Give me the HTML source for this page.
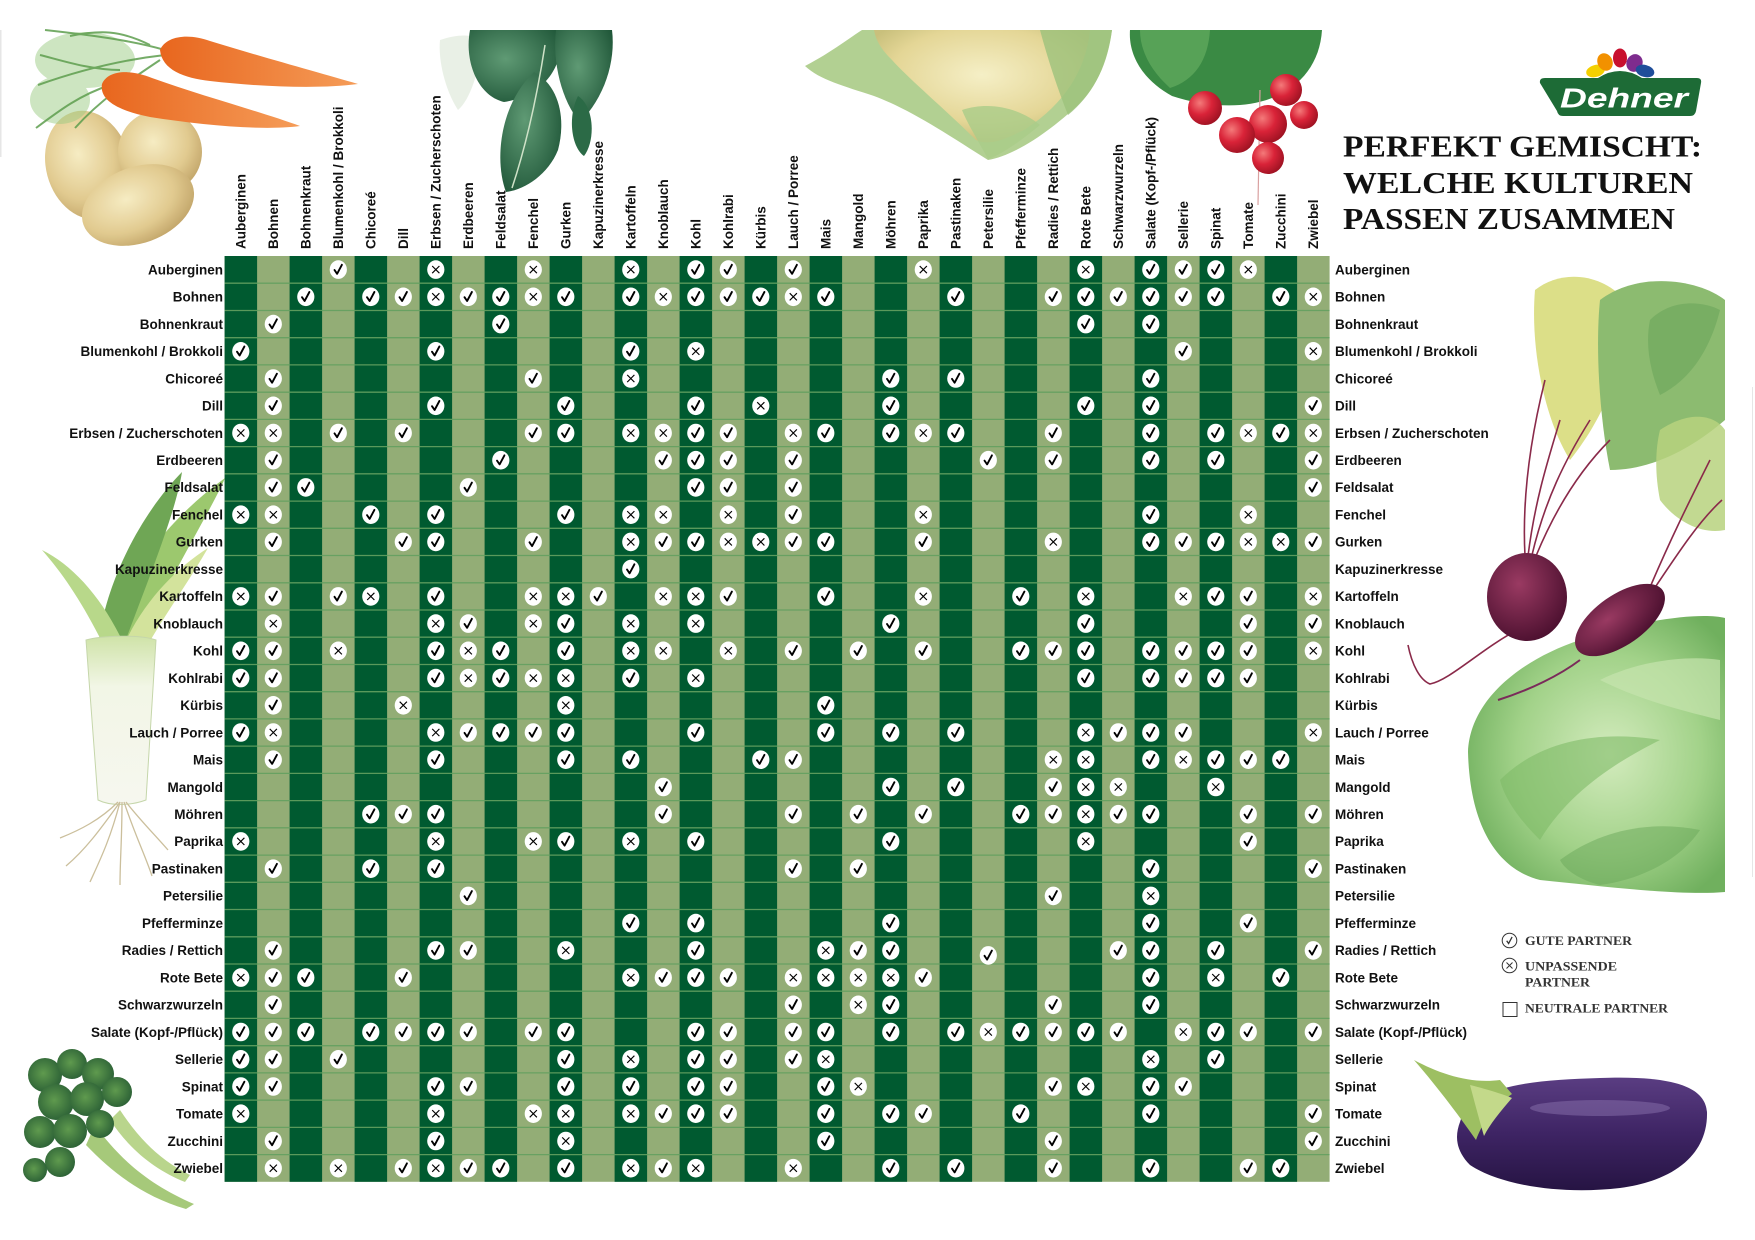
<!DOCTYPE html>
<html><head><meta charset="utf-8">
<style>
html,body{margin:0;padding:0;background:#fff;}
svg{display:block;}
.lab{font-family:"Liberation Sans",sans-serif;font-weight:bold;font-size:13.5px;fill:#111;}
.c ellipse,.x ellipse{fill:#fff;}
.c path{fill:none;stroke:#000;stroke-width:1.9;stroke-linecap:round;stroke-linejoin:round;}
.x path{fill:none;stroke:#000;stroke-width:1.15;}
.ttl{font-family:"Liberation Serif",serif;font-weight:bold;font-size:31px;fill:#111;}
.lg{font-family:"Liberation Serif",serif;font-weight:bold;font-size:12.5px;fill:#333;}
</style></head><body>
<svg width="1755" height="1240" viewBox="0 0 1755 1240" xmlns="http://www.w3.org/2000/svg">
<defs>
<radialGradient id="gPot" cx=".42" cy=".38" r=".7"><stop offset="0" stop-color="#f6ebc0"/><stop offset=".6" stop-color="#e0c88a"/><stop offset="1" stop-color="#b9995a"/></radialGradient>
<linearGradient id="gCar" x1="0" y1="0" x2="1" y2="0"><stop offset="0" stop-color="#e8661e"/><stop offset="1" stop-color="#f59c58"/></linearGradient>
<radialGradient id="gSp" cx=".4" cy=".4" r=".7"><stop offset="0" stop-color="#5f9a74"/><stop offset="1" stop-color="#1f5638"/></radialGradient>
<radialGradient id="gCau" cx=".5" cy=".4" r=".6"><stop offset="0" stop-color="#f5efc6"/><stop offset=".7" stop-color="#e4d696"/><stop offset="1" stop-color="#c9c07c"/></radialGradient>
<radialGradient id="gRad" cx=".35" cy=".35" r=".7"><stop offset="0" stop-color="#f47a7a"/><stop offset=".5" stop-color="#d92338"/><stop offset="1" stop-color="#9e1222"/></radialGradient>
<radialGradient id="gBeet" cx=".4" cy=".35" r=".7"><stop offset="0" stop-color="#9a3a62"/><stop offset="1" stop-color="#4a0f2e"/></radialGradient>
<radialGradient id="gCab" cx=".55" cy=".5" r=".6"><stop offset="0" stop-color="#d3ebbd"/><stop offset=".6" stop-color="#a2d289"/><stop offset="1" stop-color="#70b05e"/></radialGradient>
<linearGradient id="gEgg" x1="0" y1="0" x2="0" y2="1"><stop offset="0" stop-color="#5a3d82"/><stop offset=".5" stop-color="#3e2464"/><stop offset="1" stop-color="#261443"/></linearGradient>
<radialGradient id="gBro" cx=".45" cy=".45" r=".6"><stop offset="0" stop-color="#5f9a4e"/><stop offset="1" stop-color="#2a5f35"/></radialGradient>
<linearGradient id="gLeek" x1="0" y1="0" x2="0" y2="1"><stop offset="0" stop-color="#cfe3a8"/><stop offset=".3" stop-color="#f2f6e6"/><stop offset="1" stop-color="#f6f7ef"/></linearGradient>
</defs>

<!-- faint edge lines -->
<rect x="1752" y="387" width="1" height="490" fill="#e6e6e6"/>
<rect x="0" y="30" width="1.5" height="127" fill="#e6e6e6"/>

<!-- Potatoes -->
<g opacity=".95">
<ellipse cx="88" cy="165" rx="42" ry="55" transform="rotate(-15 88 165)" fill="url(#gPot)"/>
<ellipse cx="160" cy="152" rx="42" ry="42" fill="url(#gPot)"/>
<ellipse cx="138" cy="205" rx="58" ry="38" transform="rotate(-20 138 205)" fill="url(#gPot)"/>
</g>
<!-- Carrot greens -->
<g fill="#9ccc84" opacity=".5"><ellipse cx="85" cy="60" rx="50" ry="28"/><ellipse cx="60" cy="100" rx="30" ry="24"/></g>
<g stroke="#5e9e4e" stroke-width="2" fill="none" opacity=".85">
<path d="M165,50 C130,40 90,35 45,30"/><path d="M165,55 C120,60 80,70 38,85"/><path d="M110,85 C80,95 60,110 36,128"/>
<path d="M160,60 C130,80 100,100 75,128"/><path d="M150,45 C120,30 100,30 70,36"/><path d="M120,70 C90,70 60,60 40,55"/>
</g>
<!-- Carrots -->
<path fill="url(#gCar)" d="M160,50 C166,36 188,33 210,41 C262,57 320,73 358,84 C320,89 262,87 210,81 C184,78 162,70 160,50 Z"/>
<path fill="url(#gCar)" d="M102,84 C108,70 130,69 152,78 C202,96 262,112 300,126 C262,131 202,125 150,117 C120,111 99,101 102,84 Z"/>

<!-- Spinach -->
<g>
<path fill="#dfe9dc" opacity=".7" d="M440,40 C458,34 472,34 482,40 C480,70 470,100 458,110 C445,90 438,60 440,40Z"/>
<path fill="url(#gSp)" d="M470,30 L560,30 C566,68 542,96 504,102 C478,96 464,62 470,30Z"/>
<path fill="url(#gSp)" d="M556,30 L612,30 C616,62 604,98 580,122 C562,102 552,62 556,30Z"/>
<path fill="url(#gSp)" d="M534,72 C560,86 566,120 558,150 C548,175 524,190 506,192 C494,160 500,104 534,72Z"/>
<path fill="#2b6a46" d="M578,96 C594,106 596,140 584,156 C572,148 567,118 578,96Z"/>
<path d="M545,45 C538,90 528,140 512,188" stroke="#cfe2c8" stroke-width="1.5" fill="none"/>
</g>

<!-- Cauliflower -->
<g>
<path fill="#b2d092" d="M805,66 C832,52 852,36 862,30 L1112,30 C1108,62 1096,92 1068,114 C1038,140 1010,156 988,160 C956,140 912,110 874,96 C844,86 820,80 805,66Z"/>
<path fill="url(#gCau)" d="M874,30 L1090,30 C1086,72 1062,106 1024,130 C1004,140 990,146 976,140 C946,110 910,80 892,60 C880,48 876,40 874,30Z"/>
<path fill="#9cc27c" opacity=".8" d="M1040,30 L1112,30 C1106,70 1092,95 1068,115 C1058,90 1048,60 1040,30Z"/>
<path fill="#a9cc88" opacity=".8" d="M962,110 C992,100 1022,110 1040,125 C1016,145 998,156 988,159 C978,140 968,125 962,110Z"/>
</g>

<!-- Radish -->
<g>
<path fill="#3a8a44" d="M1130,30 L1322,30 C1320,62 1302,86 1272,98 C1242,110 1202,106 1172,96 C1146,82 1128,58 1130,30Z"/>
<path fill="#5fa85c" opacity=".8" d="M1140,30 L1210,30 C1208,60 1195,80 1170,88 C1150,70 1140,50 1140,30Z"/>
<path d="M1260,90 L1258,205" stroke="#d9a0a0" stroke-width="1.2"/>
<circle cx="1205" cy="108" r="17" fill="url(#gRad)"/>
<circle cx="1286" cy="90" r="16" fill="url(#gRad)"/>
<circle cx="1304" cy="115" r="14" fill="url(#gRad)"/>
<circle cx="1268" cy="124" r="19" fill="url(#gRad)"/>
<circle cx="1237" cy="135" r="18" fill="url(#gRad)"/>
<circle cx="1268" cy="158" r="16" fill="url(#gRad)"/>
</g>

<!-- Leek -->
<g>
<path fill="#9cc86e" d="M104,650 C116,590 160,525 225,478 C214,505 176,565 136,650 Z"/>
<path fill="#6fa655" d="M98,648 C104,585 140,515 182,472 C176,512 148,580 122,650 Z"/>
<path fill="#b8d88a" d="M106,650 C84,605 64,575 42,550 C72,565 100,595 122,640 Z"/>
<path fill="#d3e39c" d="M122,650 C140,605 176,568 208,548 C186,586 160,622 142,655 Z"/>
<path fill="url(#gLeek)" stroke="#c5d6aa" d="M86,640 C100,636 140,634 156,640 L146,800 C130,806 110,806 98,800 Z"/>
<g stroke="#cbbf9c" stroke-width="1.3" fill="none">
<path d="M120,802 C100,830 85,850 66,866"/><path d="M120,802 C110,840 100,860 90,882"/><path d="M122,802 C122,840 120,860 120,885"/>
<path d="M124,802 C135,835 145,855 152,876"/><path d="M126,802 C140,820 155,835 168,850"/><path d="M118,802 C100,820 80,830 60,838"/>
</g>
</g>

<!-- Broccoli -->
<g>
<path fill="#a6c97a" d="M95,1125 C120,1160 150,1185 194,1204 L186,1209 C142,1196 112,1172 86,1145Z"/>
<path fill="#b9d58c" d="M120,1110 C140,1140 160,1160 190,1175 L185,1182 C155,1170 130,1150 110,1120Z"/>
<g fill="url(#gBro)">
<circle cx="45" cy="1075" r="17"/><circle cx="72" cy="1064" r="15"/><circle cx="98" cy="1074" r="16"/>
<circle cx="56" cy="1102" r="18"/><circle cx="87" cy="1099" r="17"/><circle cx="117" cy="1092" r="15"/>
<circle cx="40" cy="1132" r="16"/><circle cx="70" cy="1131" r="17"/><circle cx="100" cy="1124" r="14"/>
<circle cx="60" cy="1162" r="15"/><circle cx="35" cy="1170" r="12"/>
</g>
</g>

<!-- Cabbage (right) -->
<g>
<path fill="url(#gCab)" d="M1468,752 C1470,700 1520,660 1580,640 C1640,620 1700,612 1725,618 L1725,892 C1680,896 1600,886 1540,880 C1500,870 1470,830 1468,752Z"/>
<path fill="#7fbb68" opacity=".6" d="M1500,780 C1540,740 1600,730 1660,740 C1620,760 1570,790 1540,840 C1520,820 1505,800 1500,780Z"/>
<path fill="#c6e4ae" opacity=".7" d="M1600,680 C1640,660 1690,655 1720,660 L1720,720 C1680,710 1640,700 1600,680Z"/>
<path fill="#6aa85a" opacity=".5" d="M1560,860 C1600,830 1650,820 1700,830 C1680,860 1640,880 1600,885 C1580,880 1565,870 1560,860Z"/>
</g>
<!-- Beet leaves -->
<g>
<path fill="#dcdf88" d="M1535,290 C1560,270 1600,272 1625,300 C1630,350 1610,410 1570,460 C1545,420 1530,350 1535,290Z"/>
<path fill="#8cbb70" d="M1600,300 C1640,270 1700,280 1725,300 L1725,420 C1690,450 1650,470 1610,470 C1600,420 1595,350 1600,300Z"/>
<path fill="#b7d27e" opacity=".85" d="M1660,430 C1690,410 1715,415 1725,430 L1725,530 C1700,535 1675,520 1660,500 C1655,475 1655,450 1660,430Z"/>
<path fill="#6fa85e" opacity=".7" d="M1650,320 C1670,300 1700,300 1720,310 C1710,350 1690,380 1660,395 C1650,370 1645,345 1650,320Z"/>
<g stroke="#8a2a4a" stroke-width="1.6" fill="none">
<path d="M1528,556 C1535,500 1548,460 1560,420"/><path d="M1532,555 C1545,500 1565,460 1590,420"/>
<path d="M1536,556 C1555,510 1580,470 1610,440"/><path d="M1525,556 C1522,500 1530,440 1545,380"/>
<path d="M1648,592 C1670,540 1690,500 1710,460"/><path d="M1652,592 C1680,550 1700,520 1722,500"/>
</g>
</g>
<!-- Beets -->
<g>
<path d="M1517,630 C1480,650 1450,680 1430,684 C1420,680 1412,665 1408,645" stroke="#8a2a4a" stroke-width="1.6" fill="none"/>
<path d="M1580,660 C1560,675 1530,690 1498,700" stroke="#7a2a5a" stroke-width="2" fill="none"/>
<ellipse cx="1527" cy="597" rx="40" ry="44" fill="url(#gBeet)"/>
<ellipse cx="1620" cy="620" rx="52" ry="25" transform="rotate(-35 1620 620)" fill="url(#gBeet)"/>
</g>

<!-- Eggplant -->
<g>
<path fill="url(#gEgg)" d="M1460,1122 C1470,1086 1530,1080 1600,1078 C1660,1076 1705,1082 1707,1112 C1708,1150 1680,1180 1620,1188 C1560,1195 1500,1185 1470,1165 C1455,1150 1455,1135 1460,1122Z"/>
<ellipse cx="1600" cy="1108" rx="70" ry="8" fill="#8a72ae" opacity=".5"/>
<path fill="#9dbf62" d="M1414,1060 C1440,1074 1470,1084 1500,1080 L1512,1094 C1492,1108 1482,1124 1476,1140 C1462,1120 1440,1090 1414,1060Z"/>
<path fill="#c3d98a" d="M1470,1085 C1490,1090 1505,1095 1512,1098 C1500,1112 1490,1124 1484,1136 C1478,1115 1474,1100 1470,1085Z"/>
</g>

<!-- Grid -->
<rect x="224.6" y="256" width="1105" height="925.8" fill="#93ad76"/>
<g fill="#005a30">
<rect x="224.6" y="256" width="32.5" height="925.8"/><rect x="289.6" y="256" width="32.5" height="925.8"/>
<rect x="354.6" y="256" width="32.5" height="925.8"/><rect x="419.6" y="256" width="32.5" height="925.8"/>
<rect x="484.6" y="256" width="32.5" height="925.8"/><rect x="549.6" y="256" width="32.5" height="925.8"/>
<rect x="614.6" y="256" width="32.5" height="925.8"/><rect x="679.6" y="256" width="32.5" height="925.8"/>
<rect x="744.6" y="256" width="32.5" height="925.8"/><rect x="809.6" y="256" width="32.5" height="925.8"/>
<rect x="874.6" y="256" width="32.5" height="925.8"/><rect x="939.6" y="256" width="32.5" height="925.8"/>
<rect x="1004.6" y="256" width="32.5" height="925.8"/><rect x="1069.6" y="256" width="32.5" height="925.8"/>
<rect x="1134.6" y="256" width="32.5" height="925.8"/><rect x="1199.6" y="256" width="32.5" height="925.8"/>
<rect x="1264.6" y="256" width="32.5" height="925.8"/>
</g>
<path stroke="#64a060" stroke-opacity=".9" stroke-width="1.3" fill="none" d="M224.6,283.2H1329.6M224.6,310.5H1329.6M224.6,337.7H1329.6M224.6,364.9H1329.6M224.6,392.2H1329.6M224.6,419.4H1329.6M224.6,446.6H1329.6M224.6,473.8H1329.6M224.6,501.1H1329.6M224.6,528.3H1329.6M224.6,555.5H1329.6M224.6,582.8H1329.6M224.6,610H1329.6M224.6,637.2H1329.6M224.6,664.5H1329.6M224.6,691.7H1329.6M224.6,718.9H1329.6M224.6,746.1H1329.6M224.6,773.4H1329.6M224.6,800.6H1329.6M224.6,827.8H1329.6M224.6,855.1H1329.6M224.6,882.3H1329.6M224.6,909.5H1329.6M224.6,936.8H1329.6M224.6,964H1329.6M224.6,991.2H1329.6M224.6,1018.4H1329.6M224.6,1045.7H1329.6M224.6,1072.9H1329.6M224.6,1100.1H1329.6M224.6,1127.4H1329.6M224.6,1154.6H1329.6"/>

<!-- Badges -->
<g transform="translate(0,269.6)">
<g class="c" transform="translate(338.3)"><ellipse rx="8.6" ry="9.3"/><path d="M-3.8.4-1.2 4.2 3.6-4.8"/></g>
<g class="c" transform="translate(695.8)"><ellipse rx="8.6" ry="9.3"/><path d="M-3.8.4-1.2 4.2 3.6-4.8"/></g>
<g class="c" transform="translate(728.3)"><ellipse rx="8.6" ry="9.3"/><path d="M-3.8.4-1.2 4.2 3.6-4.8"/></g>
<g class="c" transform="translate(793.3)"><ellipse rx="8.6" ry="9.3"/><path d="M-3.8.4-1.2 4.2 3.6-4.8"/></g>
<g class="c" transform="translate(1150.8)"><ellipse rx="8.6" ry="9.3"/><path d="M-3.8.4-1.2 4.2 3.6-4.8"/></g>
<g class="c" transform="translate(1183.3)"><ellipse rx="8.6" ry="9.3"/><path d="M-3.8.4-1.2 4.2 3.6-4.8"/></g>
<g class="c" transform="translate(1215.8)"><ellipse rx="8.6" ry="9.3"/><path d="M-3.8.4-1.2 4.2 3.6-4.8"/></g>
<g class="x" transform="translate(435.8)"><ellipse rx="8.6" ry="9.3"/><path d="M-3.6-3.6 3.6 3.6M3.6-3.6-3.6 3.6"/></g>
<g class="x" transform="translate(533.3)"><ellipse rx="8.6" ry="9.3"/><path d="M-3.6-3.6 3.6 3.6M3.6-3.6-3.6 3.6"/></g>
<g class="x" transform="translate(630.8)"><ellipse rx="8.6" ry="9.3"/><path d="M-3.6-3.6 3.6 3.6M3.6-3.6-3.6 3.6"/></g>
<g class="x" transform="translate(923.3)"><ellipse rx="8.6" ry="9.3"/><path d="M-3.6-3.6 3.6 3.6M3.6-3.6-3.6 3.6"/></g>
<g class="x" transform="translate(1085.8)"><ellipse rx="8.6" ry="9.3"/><path d="M-3.6-3.6 3.6 3.6M3.6-3.6-3.6 3.6"/></g>
<g class="x" transform="translate(1248.3)"><ellipse rx="8.6" ry="9.3"/><path d="M-3.6-3.6 3.6 3.6M3.6-3.6-3.6 3.6"/></g>
</g>
<g transform="translate(0,296.8)">
<g class="c" transform="translate(305.8)"><ellipse rx="8.6" ry="9.3"/><path d="M-3.8.4-1.2 4.2 3.6-4.8"/></g>
<g class="c" transform="translate(370.8)"><ellipse rx="8.6" ry="9.3"/><path d="M-3.8.4-1.2 4.2 3.6-4.8"/></g>
<g class="c" transform="translate(403.3)"><ellipse rx="8.6" ry="9.3"/><path d="M-3.8.4-1.2 4.2 3.6-4.8"/></g>
<g class="c" transform="translate(468.3)"><ellipse rx="8.6" ry="9.3"/><path d="M-3.8.4-1.2 4.2 3.6-4.8"/></g>
<g class="c" transform="translate(500.8)"><ellipse rx="8.6" ry="9.3"/><path d="M-3.8.4-1.2 4.2 3.6-4.8"/></g>
<g class="c" transform="translate(565.8)"><ellipse rx="8.6" ry="9.3"/><path d="M-3.8.4-1.2 4.2 3.6-4.8"/></g>
<g class="c" transform="translate(630.8)"><ellipse rx="8.6" ry="9.3"/><path d="M-3.8.4-1.2 4.2 3.6-4.8"/></g>
<g class="c" transform="translate(695.8)"><ellipse rx="8.6" ry="9.3"/><path d="M-3.8.4-1.2 4.2 3.6-4.8"/></g>
<g class="c" transform="translate(728.3)"><ellipse rx="8.6" ry="9.3"/><path d="M-3.8.4-1.2 4.2 3.6-4.8"/></g>
<g class="c" transform="translate(760.8)"><ellipse rx="8.6" ry="9.3"/><path d="M-3.8.4-1.2 4.2 3.6-4.8"/></g>
<g class="c" transform="translate(825.8)"><ellipse rx="8.6" ry="9.3"/><path d="M-3.8.4-1.2 4.2 3.6-4.8"/></g>
<g class="c" transform="translate(955.8)"><ellipse rx="8.6" ry="9.3"/><path d="M-3.8.4-1.2 4.2 3.6-4.8"/></g>
<g class="c" transform="translate(1053.3)"><ellipse rx="8.6" ry="9.3"/><path d="M-3.8.4-1.2 4.2 3.6-4.8"/></g>
<g class="c" transform="translate(1085.8)"><ellipse rx="8.6" ry="9.3"/><path d="M-3.8.4-1.2 4.2 3.6-4.8"/></g>
<g class="c" transform="translate(1118.3)"><ellipse rx="8.6" ry="9.3"/><path d="M-3.8.4-1.2 4.2 3.6-4.8"/></g>
<g class="c" transform="translate(1150.8)"><ellipse rx="8.6" ry="9.3"/><path d="M-3.8.4-1.2 4.2 3.6-4.8"/></g>
<g class="c" transform="translate(1183.3)"><ellipse rx="8.6" ry="9.3"/><path d="M-3.8.4-1.2 4.2 3.6-4.8"/></g>
<g class="c" transform="translate(1215.8)"><ellipse rx="8.6" ry="9.3"/><path d="M-3.8.4-1.2 4.2 3.6-4.8"/></g>
<g class="c" transform="translate(1280.8)"><ellipse rx="8.6" ry="9.3"/><path d="M-3.8.4-1.2 4.2 3.6-4.8"/></g>
<g class="x" transform="translate(435.8)"><ellipse rx="8.6" ry="9.3"/><path d="M-3.6-3.6 3.6 3.6M3.6-3.6-3.6 3.6"/></g>
<g class="x" transform="translate(533.3)"><ellipse rx="8.6" ry="9.3"/><path d="M-3.6-3.6 3.6 3.6M3.6-3.6-3.6 3.6"/></g>
<g class="x" transform="translate(663.3)"><ellipse rx="8.6" ry="9.3"/><path d="M-3.6-3.6 3.6 3.6M3.6-3.6-3.6 3.6"/></g>
<g class="x" transform="translate(793.3)"><ellipse rx="8.6" ry="9.3"/><path d="M-3.6-3.6 3.6 3.6M3.6-3.6-3.6 3.6"/></g>
<g class="x" transform="translate(1313.3)"><ellipse rx="8.6" ry="9.3"/><path d="M-3.6-3.6 3.6 3.6M3.6-3.6-3.6 3.6"/></g>
</g>
<g transform="translate(0,324.1)">
<g class="c" transform="translate(273.3)"><ellipse rx="8.6" ry="9.3"/><path d="M-3.8.4-1.2 4.2 3.6-4.8"/></g>
<g class="c" transform="translate(500.8)"><ellipse rx="8.6" ry="9.3"/><path d="M-3.8.4-1.2 4.2 3.6-4.8"/></g>
<g class="c" transform="translate(1085.8)"><ellipse rx="8.6" ry="9.3"/><path d="M-3.8.4-1.2 4.2 3.6-4.8"/></g>
<g class="c" transform="translate(1150.8)"><ellipse rx="8.6" ry="9.3"/><path d="M-3.8.4-1.2 4.2 3.6-4.8"/></g>
</g>
<g transform="translate(0,351.3)">
<g class="c" transform="translate(240.8)"><ellipse rx="8.6" ry="9.3"/><path d="M-3.8.4-1.2 4.2 3.6-4.8"/></g>
<g class="c" transform="translate(435.8)"><ellipse rx="8.6" ry="9.3"/><path d="M-3.8.4-1.2 4.2 3.6-4.8"/></g>
<g class="c" transform="translate(630.8)"><ellipse rx="8.6" ry="9.3"/><path d="M-3.8.4-1.2 4.2 3.6-4.8"/></g>
<g class="c" transform="translate(1183.3)"><ellipse rx="8.6" ry="9.3"/><path d="M-3.8.4-1.2 4.2 3.6-4.8"/></g>
<g class="x" transform="translate(695.8)"><ellipse rx="8.6" ry="9.3"/><path d="M-3.6-3.6 3.6 3.6M3.6-3.6-3.6 3.6"/></g>
<g class="x" transform="translate(1313.3)"><ellipse rx="8.6" ry="9.3"/><path d="M-3.6-3.6 3.6 3.6M3.6-3.6-3.6 3.6"/></g>
</g>
<g transform="translate(0,378.5)">
<g class="c" transform="translate(273.3)"><ellipse rx="8.6" ry="9.3"/><path d="M-3.8.4-1.2 4.2 3.6-4.8"/></g>
<g class="c" transform="translate(533.3)"><ellipse rx="8.6" ry="9.3"/><path d="M-3.8.4-1.2 4.2 3.6-4.8"/></g>
<g class="c" transform="translate(890.8)"><ellipse rx="8.6" ry="9.3"/><path d="M-3.8.4-1.2 4.2 3.6-4.8"/></g>
<g class="c" transform="translate(955.8)"><ellipse rx="8.6" ry="9.3"/><path d="M-3.8.4-1.2 4.2 3.6-4.8"/></g>
<g class="c" transform="translate(1150.8)"><ellipse rx="8.6" ry="9.3"/><path d="M-3.8.4-1.2 4.2 3.6-4.8"/></g>
<g class="x" transform="translate(630.8)"><ellipse rx="8.6" ry="9.3"/><path d="M-3.6-3.6 3.6 3.6M3.6-3.6-3.6 3.6"/></g>
</g>
<g transform="translate(0,405.8)">
<g class="c" transform="translate(273.3)"><ellipse rx="8.6" ry="9.3"/><path d="M-3.8.4-1.2 4.2 3.6-4.8"/></g>
<g class="c" transform="translate(435.8)"><ellipse rx="8.6" ry="9.3"/><path d="M-3.8.4-1.2 4.2 3.6-4.8"/></g>
<g class="c" transform="translate(565.8)"><ellipse rx="8.6" ry="9.3"/><path d="M-3.8.4-1.2 4.2 3.6-4.8"/></g>
<g class="c" transform="translate(695.8)"><ellipse rx="8.6" ry="9.3"/><path d="M-3.8.4-1.2 4.2 3.6-4.8"/></g>
<g class="c" transform="translate(890.8)"><ellipse rx="8.6" ry="9.3"/><path d="M-3.8.4-1.2 4.2 3.6-4.8"/></g>
<g class="c" transform="translate(1085.8)"><ellipse rx="8.6" ry="9.3"/><path d="M-3.8.4-1.2 4.2 3.6-4.8"/></g>
<g class="c" transform="translate(1150.8)"><ellipse rx="8.6" ry="9.3"/><path d="M-3.8.4-1.2 4.2 3.6-4.8"/></g>
<g class="c" transform="translate(1313.3)"><ellipse rx="8.6" ry="9.3"/><path d="M-3.8.4-1.2 4.2 3.6-4.8"/></g>
<g class="x" transform="translate(760.8)"><ellipse rx="8.6" ry="9.3"/><path d="M-3.6-3.6 3.6 3.6M3.6-3.6-3.6 3.6"/></g>
</g>
<g transform="translate(0,433)">
<g class="c" transform="translate(338.3)"><ellipse rx="8.6" ry="9.3"/><path d="M-3.8.4-1.2 4.2 3.6-4.8"/></g>
<g class="c" transform="translate(403.3)"><ellipse rx="8.6" ry="9.3"/><path d="M-3.8.4-1.2 4.2 3.6-4.8"/></g>
<g class="c" transform="translate(533.3)"><ellipse rx="8.6" ry="9.3"/><path d="M-3.8.4-1.2 4.2 3.6-4.8"/></g>
<g class="c" transform="translate(565.8)"><ellipse rx="8.6" ry="9.3"/><path d="M-3.8.4-1.2 4.2 3.6-4.8"/></g>
<g class="c" transform="translate(695.8)"><ellipse rx="8.6" ry="9.3"/><path d="M-3.8.4-1.2 4.2 3.6-4.8"/></g>
<g class="c" transform="translate(728.3)"><ellipse rx="8.6" ry="9.3"/><path d="M-3.8.4-1.2 4.2 3.6-4.8"/></g>
<g class="c" transform="translate(825.8)"><ellipse rx="8.6" ry="9.3"/><path d="M-3.8.4-1.2 4.2 3.6-4.8"/></g>
<g class="c" transform="translate(890.8)"><ellipse rx="8.6" ry="9.3"/><path d="M-3.8.4-1.2 4.2 3.6-4.8"/></g>
<g class="c" transform="translate(955.8)"><ellipse rx="8.6" ry="9.3"/><path d="M-3.8.4-1.2 4.2 3.6-4.8"/></g>
<g class="c" transform="translate(1053.3)"><ellipse rx="8.6" ry="9.3"/><path d="M-3.8.4-1.2 4.2 3.6-4.8"/></g>
<g class="c" transform="translate(1150.8)"><ellipse rx="8.6" ry="9.3"/><path d="M-3.8.4-1.2 4.2 3.6-4.8"/></g>
<g class="c" transform="translate(1215.8)"><ellipse rx="8.6" ry="9.3"/><path d="M-3.8.4-1.2 4.2 3.6-4.8"/></g>
<g class="c" transform="translate(1280.8)"><ellipse rx="8.6" ry="9.3"/><path d="M-3.8.4-1.2 4.2 3.6-4.8"/></g>
<g class="x" transform="translate(240.8)"><ellipse rx="8.6" ry="9.3"/><path d="M-3.6-3.6 3.6 3.6M3.6-3.6-3.6 3.6"/></g>
<g class="x" transform="translate(273.3)"><ellipse rx="8.6" ry="9.3"/><path d="M-3.6-3.6 3.6 3.6M3.6-3.6-3.6 3.6"/></g>
<g class="x" transform="translate(630.8)"><ellipse rx="8.6" ry="9.3"/><path d="M-3.6-3.6 3.6 3.6M3.6-3.6-3.6 3.6"/></g>
<g class="x" transform="translate(663.3)"><ellipse rx="8.6" ry="9.3"/><path d="M-3.6-3.6 3.6 3.6M3.6-3.6-3.6 3.6"/></g>
<g class="x" transform="translate(793.3)"><ellipse rx="8.6" ry="9.3"/><path d="M-3.6-3.6 3.6 3.6M3.6-3.6-3.6 3.6"/></g>
<g class="x" transform="translate(923.3)"><ellipse rx="8.6" ry="9.3"/><path d="M-3.6-3.6 3.6 3.6M3.6-3.6-3.6 3.6"/></g>
<g class="x" transform="translate(1248.3)"><ellipse rx="8.6" ry="9.3"/><path d="M-3.6-3.6 3.6 3.6M3.6-3.6-3.6 3.6"/></g>
<g class="x" transform="translate(1313.3)"><ellipse rx="8.6" ry="9.3"/><path d="M-3.6-3.6 3.6 3.6M3.6-3.6-3.6 3.6"/></g>
</g>
<g transform="translate(0,460.2)">
<g class="c" transform="translate(273.3)"><ellipse rx="8.6" ry="9.3"/><path d="M-3.8.4-1.2 4.2 3.6-4.8"/></g>
<g class="c" transform="translate(500.8)"><ellipse rx="8.6" ry="9.3"/><path d="M-3.8.4-1.2 4.2 3.6-4.8"/></g>
<g class="c" transform="translate(663.3)"><ellipse rx="8.6" ry="9.3"/><path d="M-3.8.4-1.2 4.2 3.6-4.8"/></g>
<g class="c" transform="translate(695.8)"><ellipse rx="8.6" ry="9.3"/><path d="M-3.8.4-1.2 4.2 3.6-4.8"/></g>
<g class="c" transform="translate(728.3)"><ellipse rx="8.6" ry="9.3"/><path d="M-3.8.4-1.2 4.2 3.6-4.8"/></g>
<g class="c" transform="translate(793.3)"><ellipse rx="8.6" ry="9.3"/><path d="M-3.8.4-1.2 4.2 3.6-4.8"/></g>
<g class="c" transform="translate(988.3)"><ellipse rx="8.6" ry="9.3"/><path d="M-3.8.4-1.2 4.2 3.6-4.8"/></g>
<g class="c" transform="translate(1053.3)"><ellipse rx="8.6" ry="9.3"/><path d="M-3.8.4-1.2 4.2 3.6-4.8"/></g>
<g class="c" transform="translate(1150.8)"><ellipse rx="8.6" ry="9.3"/><path d="M-3.8.4-1.2 4.2 3.6-4.8"/></g>
<g class="c" transform="translate(1215.8)"><ellipse rx="8.6" ry="9.3"/><path d="M-3.8.4-1.2 4.2 3.6-4.8"/></g>
<g class="c" transform="translate(1313.3)"><ellipse rx="8.6" ry="9.3"/><path d="M-3.8.4-1.2 4.2 3.6-4.8"/></g>
</g>
<g transform="translate(0,487.4)">
<g class="c" transform="translate(273.3)"><ellipse rx="8.6" ry="9.3"/><path d="M-3.8.4-1.2 4.2 3.6-4.8"/></g>
<g class="c" transform="translate(305.8)"><ellipse rx="8.6" ry="9.3"/><path d="M-3.8.4-1.2 4.2 3.6-4.8"/></g>
<g class="c" transform="translate(468.3)"><ellipse rx="8.6" ry="9.3"/><path d="M-3.8.4-1.2 4.2 3.6-4.8"/></g>
<g class="c" transform="translate(695.8)"><ellipse rx="8.6" ry="9.3"/><path d="M-3.8.4-1.2 4.2 3.6-4.8"/></g>
<g class="c" transform="translate(728.3)"><ellipse rx="8.6" ry="9.3"/><path d="M-3.8.4-1.2 4.2 3.6-4.8"/></g>
<g class="c" transform="translate(793.3)"><ellipse rx="8.6" ry="9.3"/><path d="M-3.8.4-1.2 4.2 3.6-4.8"/></g>
<g class="c" transform="translate(1313.3)"><ellipse rx="8.6" ry="9.3"/><path d="M-3.8.4-1.2 4.2 3.6-4.8"/></g>
</g>
<g transform="translate(0,514.7)">
<g class="c" transform="translate(370.8)"><ellipse rx="8.6" ry="9.3"/><path d="M-3.8.4-1.2 4.2 3.6-4.8"/></g>
<g class="c" transform="translate(435.8)"><ellipse rx="8.6" ry="9.3"/><path d="M-3.8.4-1.2 4.2 3.6-4.8"/></g>
<g class="c" transform="translate(565.8)"><ellipse rx="8.6" ry="9.3"/><path d="M-3.8.4-1.2 4.2 3.6-4.8"/></g>
<g class="c" transform="translate(793.3)"><ellipse rx="8.6" ry="9.3"/><path d="M-3.8.4-1.2 4.2 3.6-4.8"/></g>
<g class="c" transform="translate(1150.8)"><ellipse rx="8.6" ry="9.3"/><path d="M-3.8.4-1.2 4.2 3.6-4.8"/></g>
<g class="x" transform="translate(240.8)"><ellipse rx="8.6" ry="9.3"/><path d="M-3.6-3.6 3.6 3.6M3.6-3.6-3.6 3.6"/></g>
<g class="x" transform="translate(273.3)"><ellipse rx="8.6" ry="9.3"/><path d="M-3.6-3.6 3.6 3.6M3.6-3.6-3.6 3.6"/></g>
<g class="x" transform="translate(630.8)"><ellipse rx="8.6" ry="9.3"/><path d="M-3.6-3.6 3.6 3.6M3.6-3.6-3.6 3.6"/></g>
<g class="x" transform="translate(663.3)"><ellipse rx="8.6" ry="9.3"/><path d="M-3.6-3.6 3.6 3.6M3.6-3.6-3.6 3.6"/></g>
<g class="x" transform="translate(728.3)"><ellipse rx="8.6" ry="9.3"/><path d="M-3.6-3.6 3.6 3.6M3.6-3.6-3.6 3.6"/></g>
<g class="x" transform="translate(923.3)"><ellipse rx="8.6" ry="9.3"/><path d="M-3.6-3.6 3.6 3.6M3.6-3.6-3.6 3.6"/></g>
<g class="x" transform="translate(1248.3)"><ellipse rx="8.6" ry="9.3"/><path d="M-3.6-3.6 3.6 3.6M3.6-3.6-3.6 3.6"/></g>
</g>
<g transform="translate(0,541.9)">
<g class="c" transform="translate(273.3)"><ellipse rx="8.6" ry="9.3"/><path d="M-3.8.4-1.2 4.2 3.6-4.8"/></g>
<g class="c" transform="translate(403.3)"><ellipse rx="8.6" ry="9.3"/><path d="M-3.8.4-1.2 4.2 3.6-4.8"/></g>
<g class="c" transform="translate(435.8)"><ellipse rx="8.6" ry="9.3"/><path d="M-3.8.4-1.2 4.2 3.6-4.8"/></g>
<g class="c" transform="translate(533.3)"><ellipse rx="8.6" ry="9.3"/><path d="M-3.8.4-1.2 4.2 3.6-4.8"/></g>
<g class="c" transform="translate(663.3)"><ellipse rx="8.6" ry="9.3"/><path d="M-3.8.4-1.2 4.2 3.6-4.8"/></g>
<g class="c" transform="translate(695.8)"><ellipse rx="8.6" ry="9.3"/><path d="M-3.8.4-1.2 4.2 3.6-4.8"/></g>
<g class="c" transform="translate(793.3)"><ellipse rx="8.6" ry="9.3"/><path d="M-3.8.4-1.2 4.2 3.6-4.8"/></g>
<g class="c" transform="translate(825.8)"><ellipse rx="8.6" ry="9.3"/><path d="M-3.8.4-1.2 4.2 3.6-4.8"/></g>
<g class="c" transform="translate(923.3)"><ellipse rx="8.6" ry="9.3"/><path d="M-3.8.4-1.2 4.2 3.6-4.8"/></g>
<g class="c" transform="translate(1150.8)"><ellipse rx="8.6" ry="9.3"/><path d="M-3.8.4-1.2 4.2 3.6-4.8"/></g>
<g class="c" transform="translate(1183.3)"><ellipse rx="8.6" ry="9.3"/><path d="M-3.8.4-1.2 4.2 3.6-4.8"/></g>
<g class="c" transform="translate(1215.8)"><ellipse rx="8.6" ry="9.3"/><path d="M-3.8.4-1.2 4.2 3.6-4.8"/></g>
<g class="c" transform="translate(1313.3)"><ellipse rx="8.6" ry="9.3"/><path d="M-3.8.4-1.2 4.2 3.6-4.8"/></g>
<g class="x" transform="translate(630.8)"><ellipse rx="8.6" ry="9.3"/><path d="M-3.6-3.6 3.6 3.6M3.6-3.6-3.6 3.6"/></g>
<g class="x" transform="translate(728.3)"><ellipse rx="8.6" ry="9.3"/><path d="M-3.6-3.6 3.6 3.6M3.6-3.6-3.6 3.6"/></g>
<g class="x" transform="translate(760.8)"><ellipse rx="8.6" ry="9.3"/><path d="M-3.6-3.6 3.6 3.6M3.6-3.6-3.6 3.6"/></g>
<g class="x" transform="translate(1053.3)"><ellipse rx="8.6" ry="9.3"/><path d="M-3.6-3.6 3.6 3.6M3.6-3.6-3.6 3.6"/></g>
<g class="x" transform="translate(1248.3)"><ellipse rx="8.6" ry="9.3"/><path d="M-3.6-3.6 3.6 3.6M3.6-3.6-3.6 3.6"/></g>
<g class="x" transform="translate(1280.8)"><ellipse rx="8.6" ry="9.3"/><path d="M-3.6-3.6 3.6 3.6M3.6-3.6-3.6 3.6"/></g>
</g>
<g transform="translate(0,569.1)">
<g class="c" transform="translate(630.8)"><ellipse rx="8.6" ry="9.3"/><path d="M-3.8.4-1.2 4.2 3.6-4.8"/></g>
</g>
<g transform="translate(0,596.4)">
<g class="c" transform="translate(273.3)"><ellipse rx="8.6" ry="9.3"/><path d="M-3.8.4-1.2 4.2 3.6-4.8"/></g>
<g class="c" transform="translate(338.3)"><ellipse rx="8.6" ry="9.3"/><path d="M-3.8.4-1.2 4.2 3.6-4.8"/></g>
<g class="c" transform="translate(435.8)"><ellipse rx="8.6" ry="9.3"/><path d="M-3.8.4-1.2 4.2 3.6-4.8"/></g>
<g class="c" transform="translate(598.3)"><ellipse rx="8.6" ry="9.3"/><path d="M-3.8.4-1.2 4.2 3.6-4.8"/></g>
<g class="c" transform="translate(728.3)"><ellipse rx="8.6" ry="9.3"/><path d="M-3.8.4-1.2 4.2 3.6-4.8"/></g>
<g class="c" transform="translate(825.8)"><ellipse rx="8.6" ry="9.3"/><path d="M-3.8.4-1.2 4.2 3.6-4.8"/></g>
<g class="c" transform="translate(1020.8)"><ellipse rx="8.6" ry="9.3"/><path d="M-3.8.4-1.2 4.2 3.6-4.8"/></g>
<g class="c" transform="translate(1215.8)"><ellipse rx="8.6" ry="9.3"/><path d="M-3.8.4-1.2 4.2 3.6-4.8"/></g>
<g class="c" transform="translate(1248.3)"><ellipse rx="8.6" ry="9.3"/><path d="M-3.8.4-1.2 4.2 3.6-4.8"/></g>
<g class="x" transform="translate(240.8)"><ellipse rx="8.6" ry="9.3"/><path d="M-3.6-3.6 3.6 3.6M3.6-3.6-3.6 3.6"/></g>
<g class="x" transform="translate(370.8)"><ellipse rx="8.6" ry="9.3"/><path d="M-3.6-3.6 3.6 3.6M3.6-3.6-3.6 3.6"/></g>
<g class="x" transform="translate(533.3)"><ellipse rx="8.6" ry="9.3"/><path d="M-3.6-3.6 3.6 3.6M3.6-3.6-3.6 3.6"/></g>
<g class="x" transform="translate(565.8)"><ellipse rx="8.6" ry="9.3"/><path d="M-3.6-3.6 3.6 3.6M3.6-3.6-3.6 3.6"/></g>
<g class="x" transform="translate(663.3)"><ellipse rx="8.6" ry="9.3"/><path d="M-3.6-3.6 3.6 3.6M3.6-3.6-3.6 3.6"/></g>
<g class="x" transform="translate(695.8)"><ellipse rx="8.6" ry="9.3"/><path d="M-3.6-3.6 3.6 3.6M3.6-3.6-3.6 3.6"/></g>
<g class="x" transform="translate(923.3)"><ellipse rx="8.6" ry="9.3"/><path d="M-3.6-3.6 3.6 3.6M3.6-3.6-3.6 3.6"/></g>
<g class="x" transform="translate(1085.8)"><ellipse rx="8.6" ry="9.3"/><path d="M-3.6-3.6 3.6 3.6M3.6-3.6-3.6 3.6"/></g>
<g class="x" transform="translate(1183.3)"><ellipse rx="8.6" ry="9.3"/><path d="M-3.6-3.6 3.6 3.6M3.6-3.6-3.6 3.6"/></g>
<g class="x" transform="translate(1313.3)"><ellipse rx="8.6" ry="9.3"/><path d="M-3.6-3.6 3.6 3.6M3.6-3.6-3.6 3.6"/></g>
</g>
<g transform="translate(0,623.6)">
<g class="c" transform="translate(468.3)"><ellipse rx="8.6" ry="9.3"/><path d="M-3.8.4-1.2 4.2 3.6-4.8"/></g>
<g class="c" transform="translate(565.8)"><ellipse rx="8.6" ry="9.3"/><path d="M-3.8.4-1.2 4.2 3.6-4.8"/></g>
<g class="c" transform="translate(890.8)"><ellipse rx="8.6" ry="9.3"/><path d="M-3.8.4-1.2 4.2 3.6-4.8"/></g>
<g class="c" transform="translate(1085.8)"><ellipse rx="8.6" ry="9.3"/><path d="M-3.8.4-1.2 4.2 3.6-4.8"/></g>
<g class="c" transform="translate(1248.3)"><ellipse rx="8.6" ry="9.3"/><path d="M-3.8.4-1.2 4.2 3.6-4.8"/></g>
<g class="c" transform="translate(1313.3)"><ellipse rx="8.6" ry="9.3"/><path d="M-3.8.4-1.2 4.2 3.6-4.8"/></g>
<g class="x" transform="translate(273.3)"><ellipse rx="8.6" ry="9.3"/><path d="M-3.6-3.6 3.6 3.6M3.6-3.6-3.6 3.6"/></g>
<g class="x" transform="translate(435.8)"><ellipse rx="8.6" ry="9.3"/><path d="M-3.6-3.6 3.6 3.6M3.6-3.6-3.6 3.6"/></g>
<g class="x" transform="translate(533.3)"><ellipse rx="8.6" ry="9.3"/><path d="M-3.6-3.6 3.6 3.6M3.6-3.6-3.6 3.6"/></g>
<g class="x" transform="translate(630.8)"><ellipse rx="8.6" ry="9.3"/><path d="M-3.6-3.6 3.6 3.6M3.6-3.6-3.6 3.6"/></g>
<g class="x" transform="translate(695.8)"><ellipse rx="8.6" ry="9.3"/><path d="M-3.6-3.6 3.6 3.6M3.6-3.6-3.6 3.6"/></g>
</g>
<g transform="translate(0,650.8)">
<g class="c" transform="translate(240.8)"><ellipse rx="8.6" ry="9.3"/><path d="M-3.8.4-1.2 4.2 3.6-4.8"/></g>
<g class="c" transform="translate(273.3)"><ellipse rx="8.6" ry="9.3"/><path d="M-3.8.4-1.2 4.2 3.6-4.8"/></g>
<g class="c" transform="translate(435.8)"><ellipse rx="8.6" ry="9.3"/><path d="M-3.8.4-1.2 4.2 3.6-4.8"/></g>
<g class="c" transform="translate(500.8)"><ellipse rx="8.6" ry="9.3"/><path d="M-3.8.4-1.2 4.2 3.6-4.8"/></g>
<g class="c" transform="translate(565.8)"><ellipse rx="8.6" ry="9.3"/><path d="M-3.8.4-1.2 4.2 3.6-4.8"/></g>
<g class="c" transform="translate(793.3)"><ellipse rx="8.6" ry="9.3"/><path d="M-3.8.4-1.2 4.2 3.6-4.8"/></g>
<g class="c" transform="translate(858.3)"><ellipse rx="8.6" ry="9.3"/><path d="M-3.8.4-1.2 4.2 3.6-4.8"/></g>
<g class="c" transform="translate(923.3)"><ellipse rx="8.6" ry="9.3"/><path d="M-3.8.4-1.2 4.2 3.6-4.8"/></g>
<g class="c" transform="translate(1020.8)"><ellipse rx="8.6" ry="9.3"/><path d="M-3.8.4-1.2 4.2 3.6-4.8"/></g>
<g class="c" transform="translate(1053.3)"><ellipse rx="8.6" ry="9.3"/><path d="M-3.8.4-1.2 4.2 3.6-4.8"/></g>
<g class="c" transform="translate(1085.8)"><ellipse rx="8.6" ry="9.3"/><path d="M-3.8.4-1.2 4.2 3.6-4.8"/></g>
<g class="c" transform="translate(1150.8)"><ellipse rx="8.6" ry="9.3"/><path d="M-3.8.4-1.2 4.2 3.6-4.8"/></g>
<g class="c" transform="translate(1183.3)"><ellipse rx="8.6" ry="9.3"/><path d="M-3.8.4-1.2 4.2 3.6-4.8"/></g>
<g class="c" transform="translate(1215.8)"><ellipse rx="8.6" ry="9.3"/><path d="M-3.8.4-1.2 4.2 3.6-4.8"/></g>
<g class="c" transform="translate(1248.3)"><ellipse rx="8.6" ry="9.3"/><path d="M-3.8.4-1.2 4.2 3.6-4.8"/></g>
<g class="x" transform="translate(338.3)"><ellipse rx="8.6" ry="9.3"/><path d="M-3.6-3.6 3.6 3.6M3.6-3.6-3.6 3.6"/></g>
<g class="x" transform="translate(468.3)"><ellipse rx="8.6" ry="9.3"/><path d="M-3.6-3.6 3.6 3.6M3.6-3.6-3.6 3.6"/></g>
<g class="x" transform="translate(630.8)"><ellipse rx="8.6" ry="9.3"/><path d="M-3.6-3.6 3.6 3.6M3.6-3.6-3.6 3.6"/></g>
<g class="x" transform="translate(663.3)"><ellipse rx="8.6" ry="9.3"/><path d="M-3.6-3.6 3.6 3.6M3.6-3.6-3.6 3.6"/></g>
<g class="x" transform="translate(728.3)"><ellipse rx="8.6" ry="9.3"/><path d="M-3.6-3.6 3.6 3.6M3.6-3.6-3.6 3.6"/></g>
<g class="x" transform="translate(1313.3)"><ellipse rx="8.6" ry="9.3"/><path d="M-3.6-3.6 3.6 3.6M3.6-3.6-3.6 3.6"/></g>
</g>
<g transform="translate(0,678.1)">
<g class="c" transform="translate(240.8)"><ellipse rx="8.6" ry="9.3"/><path d="M-3.8.4-1.2 4.2 3.6-4.8"/></g>
<g class="c" transform="translate(273.3)"><ellipse rx="8.6" ry="9.3"/><path d="M-3.8.4-1.2 4.2 3.6-4.8"/></g>
<g class="c" transform="translate(435.8)"><ellipse rx="8.6" ry="9.3"/><path d="M-3.8.4-1.2 4.2 3.6-4.8"/></g>
<g class="c" transform="translate(500.8)"><ellipse rx="8.6" ry="9.3"/><path d="M-3.8.4-1.2 4.2 3.6-4.8"/></g>
<g class="c" transform="translate(630.8)"><ellipse rx="8.6" ry="9.3"/><path d="M-3.8.4-1.2 4.2 3.6-4.8"/></g>
<g class="c" transform="translate(1085.8)"><ellipse rx="8.6" ry="9.3"/><path d="M-3.8.4-1.2 4.2 3.6-4.8"/></g>
<g class="c" transform="translate(1150.8)"><ellipse rx="8.6" ry="9.3"/><path d="M-3.8.4-1.2 4.2 3.6-4.8"/></g>
<g class="c" transform="translate(1183.3)"><ellipse rx="8.6" ry="9.3"/><path d="M-3.8.4-1.2 4.2 3.6-4.8"/></g>
<g class="c" transform="translate(1215.8)"><ellipse rx="8.6" ry="9.3"/><path d="M-3.8.4-1.2 4.2 3.6-4.8"/></g>
<g class="c" transform="translate(1248.3)"><ellipse rx="8.6" ry="9.3"/><path d="M-3.8.4-1.2 4.2 3.6-4.8"/></g>
<g class="x" transform="translate(468.3)"><ellipse rx="8.6" ry="9.3"/><path d="M-3.6-3.6 3.6 3.6M3.6-3.6-3.6 3.6"/></g>
<g class="x" transform="translate(533.3)"><ellipse rx="8.6" ry="9.3"/><path d="M-3.6-3.6 3.6 3.6M3.6-3.6-3.6 3.6"/></g>
<g class="x" transform="translate(565.8)"><ellipse rx="8.6" ry="9.3"/><path d="M-3.6-3.6 3.6 3.6M3.6-3.6-3.6 3.6"/></g>
<g class="x" transform="translate(695.8)"><ellipse rx="8.6" ry="9.3"/><path d="M-3.6-3.6 3.6 3.6M3.6-3.6-3.6 3.6"/></g>
</g>
<g transform="translate(0,705.3)">
<g class="c" transform="translate(273.3)"><ellipse rx="8.6" ry="9.3"/><path d="M-3.8.4-1.2 4.2 3.6-4.8"/></g>
<g class="c" transform="translate(825.8)"><ellipse rx="8.6" ry="9.3"/><path d="M-3.8.4-1.2 4.2 3.6-4.8"/></g>
<g class="x" transform="translate(403.3)"><ellipse rx="8.6" ry="9.3"/><path d="M-3.6-3.6 3.6 3.6M3.6-3.6-3.6 3.6"/></g>
<g class="x" transform="translate(565.8)"><ellipse rx="8.6" ry="9.3"/><path d="M-3.6-3.6 3.6 3.6M3.6-3.6-3.6 3.6"/></g>
</g>
<g transform="translate(0,732.5)">
<g class="c" transform="translate(240.8)"><ellipse rx="8.6" ry="9.3"/><path d="M-3.8.4-1.2 4.2 3.6-4.8"/></g>
<g class="c" transform="translate(468.3)"><ellipse rx="8.6" ry="9.3"/><path d="M-3.8.4-1.2 4.2 3.6-4.8"/></g>
<g class="c" transform="translate(500.8)"><ellipse rx="8.6" ry="9.3"/><path d="M-3.8.4-1.2 4.2 3.6-4.8"/></g>
<g class="c" transform="translate(533.3)"><ellipse rx="8.6" ry="9.3"/><path d="M-3.8.4-1.2 4.2 3.6-4.8"/></g>
<g class="c" transform="translate(565.8)"><ellipse rx="8.6" ry="9.3"/><path d="M-3.8.4-1.2 4.2 3.6-4.8"/></g>
<g class="c" transform="translate(695.8)"><ellipse rx="8.6" ry="9.3"/><path d="M-3.8.4-1.2 4.2 3.6-4.8"/></g>
<g class="c" transform="translate(825.8)"><ellipse rx="8.6" ry="9.3"/><path d="M-3.8.4-1.2 4.2 3.6-4.8"/></g>
<g class="c" transform="translate(890.8)"><ellipse rx="8.6" ry="9.3"/><path d="M-3.8.4-1.2 4.2 3.6-4.8"/></g>
<g class="c" transform="translate(955.8)"><ellipse rx="8.6" ry="9.3"/><path d="M-3.8.4-1.2 4.2 3.6-4.8"/></g>
<g class="c" transform="translate(1118.3)"><ellipse rx="8.6" ry="9.3"/><path d="M-3.8.4-1.2 4.2 3.6-4.8"/></g>
<g class="c" transform="translate(1150.8)"><ellipse rx="8.6" ry="9.3"/><path d="M-3.8.4-1.2 4.2 3.6-4.8"/></g>
<g class="c" transform="translate(1183.3)"><ellipse rx="8.6" ry="9.3"/><path d="M-3.8.4-1.2 4.2 3.6-4.8"/></g>
<g class="x" transform="translate(273.3)"><ellipse rx="8.6" ry="9.3"/><path d="M-3.6-3.6 3.6 3.6M3.6-3.6-3.6 3.6"/></g>
<g class="x" transform="translate(435.8)"><ellipse rx="8.6" ry="9.3"/><path d="M-3.6-3.6 3.6 3.6M3.6-3.6-3.6 3.6"/></g>
<g class="x" transform="translate(1085.8)"><ellipse rx="8.6" ry="9.3"/><path d="M-3.6-3.6 3.6 3.6M3.6-3.6-3.6 3.6"/></g>
<g class="x" transform="translate(1313.3)"><ellipse rx="8.6" ry="9.3"/><path d="M-3.6-3.6 3.6 3.6M3.6-3.6-3.6 3.6"/></g>
</g>
<g transform="translate(0,759.7)">
<g class="c" transform="translate(273.3)"><ellipse rx="8.6" ry="9.3"/><path d="M-3.8.4-1.2 4.2 3.6-4.8"/></g>
<g class="c" transform="translate(435.8)"><ellipse rx="8.6" ry="9.3"/><path d="M-3.8.4-1.2 4.2 3.6-4.8"/></g>
<g class="c" transform="translate(565.8)"><ellipse rx="8.6" ry="9.3"/><path d="M-3.8.4-1.2 4.2 3.6-4.8"/></g>
<g class="c" transform="translate(630.8)"><ellipse rx="8.6" ry="9.3"/><path d="M-3.8.4-1.2 4.2 3.6-4.8"/></g>
<g class="c" transform="translate(760.8)"><ellipse rx="8.6" ry="9.3"/><path d="M-3.8.4-1.2 4.2 3.6-4.8"/></g>
<g class="c" transform="translate(793.3)"><ellipse rx="8.6" ry="9.3"/><path d="M-3.8.4-1.2 4.2 3.6-4.8"/></g>
<g class="c" transform="translate(1150.8)"><ellipse rx="8.6" ry="9.3"/><path d="M-3.8.4-1.2 4.2 3.6-4.8"/></g>
<g class="c" transform="translate(1215.8)"><ellipse rx="8.6" ry="9.3"/><path d="M-3.8.4-1.2 4.2 3.6-4.8"/></g>
<g class="c" transform="translate(1248.3)"><ellipse rx="8.6" ry="9.3"/><path d="M-3.8.4-1.2 4.2 3.6-4.8"/></g>
<g class="c" transform="translate(1280.8)"><ellipse rx="8.6" ry="9.3"/><path d="M-3.8.4-1.2 4.2 3.6-4.8"/></g>
<g class="x" transform="translate(1053.3)"><ellipse rx="8.6" ry="9.3"/><path d="M-3.6-3.6 3.6 3.6M3.6-3.6-3.6 3.6"/></g>
<g class="x" transform="translate(1085.8)"><ellipse rx="8.6" ry="9.3"/><path d="M-3.6-3.6 3.6 3.6M3.6-3.6-3.6 3.6"/></g>
<g class="x" transform="translate(1183.3)"><ellipse rx="8.6" ry="9.3"/><path d="M-3.6-3.6 3.6 3.6M3.6-3.6-3.6 3.6"/></g>
</g>
<g transform="translate(0,787)">
<g class="c" transform="translate(663.3)"><ellipse rx="8.6" ry="9.3"/><path d="M-3.8.4-1.2 4.2 3.6-4.8"/></g>
<g class="c" transform="translate(890.8)"><ellipse rx="8.6" ry="9.3"/><path d="M-3.8.4-1.2 4.2 3.6-4.8"/></g>
<g class="c" transform="translate(955.8)"><ellipse rx="8.6" ry="9.3"/><path d="M-3.8.4-1.2 4.2 3.6-4.8"/></g>
<g class="c" transform="translate(1053.3)"><ellipse rx="8.6" ry="9.3"/><path d="M-3.8.4-1.2 4.2 3.6-4.8"/></g>
<g class="x" transform="translate(1085.8)"><ellipse rx="8.6" ry="9.3"/><path d="M-3.6-3.6 3.6 3.6M3.6-3.6-3.6 3.6"/></g>
<g class="x" transform="translate(1118.3)"><ellipse rx="8.6" ry="9.3"/><path d="M-3.6-3.6 3.6 3.6M3.6-3.6-3.6 3.6"/></g>
<g class="x" transform="translate(1215.8)"><ellipse rx="8.6" ry="9.3"/><path d="M-3.6-3.6 3.6 3.6M3.6-3.6-3.6 3.6"/></g>
</g>
<g transform="translate(0,814.2)">
<g class="c" transform="translate(370.8)"><ellipse rx="8.6" ry="9.3"/><path d="M-3.8.4-1.2 4.2 3.6-4.8"/></g>
<g class="c" transform="translate(403.3)"><ellipse rx="8.6" ry="9.3"/><path d="M-3.8.4-1.2 4.2 3.6-4.8"/></g>
<g class="c" transform="translate(435.8)"><ellipse rx="8.6" ry="9.3"/><path d="M-3.8.4-1.2 4.2 3.6-4.8"/></g>
<g class="c" transform="translate(663.3)"><ellipse rx="8.6" ry="9.3"/><path d="M-3.8.4-1.2 4.2 3.6-4.8"/></g>
<g class="c" transform="translate(793.3)"><ellipse rx="8.6" ry="9.3"/><path d="M-3.8.4-1.2 4.2 3.6-4.8"/></g>
<g class="c" transform="translate(858.3)"><ellipse rx="8.6" ry="9.3"/><path d="M-3.8.4-1.2 4.2 3.6-4.8"/></g>
<g class="c" transform="translate(923.3)"><ellipse rx="8.6" ry="9.3"/><path d="M-3.8.4-1.2 4.2 3.6-4.8"/></g>
<g class="c" transform="translate(1020.8)"><ellipse rx="8.6" ry="9.3"/><path d="M-3.8.4-1.2 4.2 3.6-4.8"/></g>
<g class="c" transform="translate(1053.3)"><ellipse rx="8.6" ry="9.3"/><path d="M-3.8.4-1.2 4.2 3.6-4.8"/></g>
<g class="c" transform="translate(1118.3)"><ellipse rx="8.6" ry="9.3"/><path d="M-3.8.4-1.2 4.2 3.6-4.8"/></g>
<g class="c" transform="translate(1150.8)"><ellipse rx="8.6" ry="9.3"/><path d="M-3.8.4-1.2 4.2 3.6-4.8"/></g>
<g class="c" transform="translate(1248.3)"><ellipse rx="8.6" ry="9.3"/><path d="M-3.8.4-1.2 4.2 3.6-4.8"/></g>
<g class="c" transform="translate(1313.3)"><ellipse rx="8.6" ry="9.3"/><path d="M-3.8.4-1.2 4.2 3.6-4.8"/></g>
<g class="x" transform="translate(1085.8)"><ellipse rx="8.6" ry="9.3"/><path d="M-3.6-3.6 3.6 3.6M3.6-3.6-3.6 3.6"/></g>
</g>
<g transform="translate(0,841.4)">
<g class="c" transform="translate(565.8)"><ellipse rx="8.6" ry="9.3"/><path d="M-3.8.4-1.2 4.2 3.6-4.8"/></g>
<g class="c" transform="translate(695.8)"><ellipse rx="8.6" ry="9.3"/><path d="M-3.8.4-1.2 4.2 3.6-4.8"/></g>
<g class="c" transform="translate(890.8)"><ellipse rx="8.6" ry="9.3"/><path d="M-3.8.4-1.2 4.2 3.6-4.8"/></g>
<g class="c" transform="translate(1248.3)"><ellipse rx="8.6" ry="9.3"/><path d="M-3.8.4-1.2 4.2 3.6-4.8"/></g>
<g class="x" transform="translate(240.8)"><ellipse rx="8.6" ry="9.3"/><path d="M-3.6-3.6 3.6 3.6M3.6-3.6-3.6 3.6"/></g>
<g class="x" transform="translate(435.8)"><ellipse rx="8.6" ry="9.3"/><path d="M-3.6-3.6 3.6 3.6M3.6-3.6-3.6 3.6"/></g>
<g class="x" transform="translate(533.3)"><ellipse rx="8.6" ry="9.3"/><path d="M-3.6-3.6 3.6 3.6M3.6-3.6-3.6 3.6"/></g>
<g class="x" transform="translate(630.8)"><ellipse rx="8.6" ry="9.3"/><path d="M-3.6-3.6 3.6 3.6M3.6-3.6-3.6 3.6"/></g>
<g class="x" transform="translate(1085.8)"><ellipse rx="8.6" ry="9.3"/><path d="M-3.6-3.6 3.6 3.6M3.6-3.6-3.6 3.6"/></g>
</g>
<g transform="translate(0,868.7)">
<g class="c" transform="translate(273.3)"><ellipse rx="8.6" ry="9.3"/><path d="M-3.8.4-1.2 4.2 3.6-4.8"/></g>
<g class="c" transform="translate(370.8)"><ellipse rx="8.6" ry="9.3"/><path d="M-3.8.4-1.2 4.2 3.6-4.8"/></g>
<g class="c" transform="translate(435.8)"><ellipse rx="8.6" ry="9.3"/><path d="M-3.8.4-1.2 4.2 3.6-4.8"/></g>
<g class="c" transform="translate(793.3)"><ellipse rx="8.6" ry="9.3"/><path d="M-3.8.4-1.2 4.2 3.6-4.8"/></g>
<g class="c" transform="translate(858.3)"><ellipse rx="8.6" ry="9.3"/><path d="M-3.8.4-1.2 4.2 3.6-4.8"/></g>
<g class="c" transform="translate(1150.8)"><ellipse rx="8.6" ry="9.3"/><path d="M-3.8.4-1.2 4.2 3.6-4.8"/></g>
<g class="c" transform="translate(1313.3)"><ellipse rx="8.6" ry="9.3"/><path d="M-3.8.4-1.2 4.2 3.6-4.8"/></g>
</g>
<g transform="translate(0,895.9)">
<g class="c" transform="translate(468.3)"><ellipse rx="8.6" ry="9.3"/><path d="M-3.8.4-1.2 4.2 3.6-4.8"/></g>
<g class="c" transform="translate(1053.3)"><ellipse rx="8.6" ry="9.3"/><path d="M-3.8.4-1.2 4.2 3.6-4.8"/></g>
<g class="x" transform="translate(1150.8)"><ellipse rx="8.6" ry="9.3"/><path d="M-3.6-3.6 3.6 3.6M3.6-3.6-3.6 3.6"/></g>
</g>
<g transform="translate(0,923.1)">
<g class="c" transform="translate(630.8)"><ellipse rx="8.6" ry="9.3"/><path d="M-3.8.4-1.2 4.2 3.6-4.8"/></g>
<g class="c" transform="translate(695.8)"><ellipse rx="8.6" ry="9.3"/><path d="M-3.8.4-1.2 4.2 3.6-4.8"/></g>
<g class="c" transform="translate(890.8)"><ellipse rx="8.6" ry="9.3"/><path d="M-3.8.4-1.2 4.2 3.6-4.8"/></g>
<g class="c" transform="translate(1150.8)"><ellipse rx="8.6" ry="9.3"/><path d="M-3.8.4-1.2 4.2 3.6-4.8"/></g>
<g class="c" transform="translate(1248.3)"><ellipse rx="8.6" ry="9.3"/><path d="M-3.8.4-1.2 4.2 3.6-4.8"/></g>
</g>
<g transform="translate(0,950.4)">
<g class="c" transform="translate(273.3)"><ellipse rx="8.6" ry="9.3"/><path d="M-3.8.4-1.2 4.2 3.6-4.8"/></g>
<g class="c" transform="translate(435.8)"><ellipse rx="8.6" ry="9.3"/><path d="M-3.8.4-1.2 4.2 3.6-4.8"/></g>
<g class="c" transform="translate(468.3)"><ellipse rx="8.6" ry="9.3"/><path d="M-3.8.4-1.2 4.2 3.6-4.8"/></g>
<g class="c" transform="translate(695.8)"><ellipse rx="8.6" ry="9.3"/><path d="M-3.8.4-1.2 4.2 3.6-4.8"/></g>
<g class="c" transform="translate(858.3)"><ellipse rx="8.6" ry="9.3"/><path d="M-3.8.4-1.2 4.2 3.6-4.8"/></g>
<g class="c" transform="translate(890.8)"><ellipse rx="8.6" ry="9.3"/><path d="M-3.8.4-1.2 4.2 3.6-4.8"/></g>
<g class="c" transform="translate(988.3,5)"><ellipse rx="8.6" ry="9.3"/><path d="M-3.8.4-1.2 4.2 3.6-4.8"/></g>
<g class="c" transform="translate(1118.3)"><ellipse rx="8.6" ry="9.3"/><path d="M-3.8.4-1.2 4.2 3.6-4.8"/></g>
<g class="c" transform="translate(1150.8)"><ellipse rx="8.6" ry="9.3"/><path d="M-3.8.4-1.2 4.2 3.6-4.8"/></g>
<g class="c" transform="translate(1215.8)"><ellipse rx="8.6" ry="9.3"/><path d="M-3.8.4-1.2 4.2 3.6-4.8"/></g>
<g class="c" transform="translate(1313.3)"><ellipse rx="8.6" ry="9.3"/><path d="M-3.8.4-1.2 4.2 3.6-4.8"/></g>
<g class="x" transform="translate(565.8)"><ellipse rx="8.6" ry="9.3"/><path d="M-3.6-3.6 3.6 3.6M3.6-3.6-3.6 3.6"/></g>
<g class="x" transform="translate(825.8)"><ellipse rx="8.6" ry="9.3"/><path d="M-3.6-3.6 3.6 3.6M3.6-3.6-3.6 3.6"/></g>
</g>
<g transform="translate(0,977.6)">
<g class="c" transform="translate(273.3)"><ellipse rx="8.6" ry="9.3"/><path d="M-3.8.4-1.2 4.2 3.6-4.8"/></g>
<g class="c" transform="translate(305.8)"><ellipse rx="8.6" ry="9.3"/><path d="M-3.8.4-1.2 4.2 3.6-4.8"/></g>
<g class="c" transform="translate(403.3)"><ellipse rx="8.6" ry="9.3"/><path d="M-3.8.4-1.2 4.2 3.6-4.8"/></g>
<g class="c" transform="translate(663.3)"><ellipse rx="8.6" ry="9.3"/><path d="M-3.8.4-1.2 4.2 3.6-4.8"/></g>
<g class="c" transform="translate(695.8)"><ellipse rx="8.6" ry="9.3"/><path d="M-3.8.4-1.2 4.2 3.6-4.8"/></g>
<g class="c" transform="translate(728.3)"><ellipse rx="8.6" ry="9.3"/><path d="M-3.8.4-1.2 4.2 3.6-4.8"/></g>
<g class="c" transform="translate(923.3)"><ellipse rx="8.6" ry="9.3"/><path d="M-3.8.4-1.2 4.2 3.6-4.8"/></g>
<g class="c" transform="translate(1150.8)"><ellipse rx="8.6" ry="9.3"/><path d="M-3.8.4-1.2 4.2 3.6-4.8"/></g>
<g class="c" transform="translate(1280.8)"><ellipse rx="8.6" ry="9.3"/><path d="M-3.8.4-1.2 4.2 3.6-4.8"/></g>
<g class="x" transform="translate(240.8)"><ellipse rx="8.6" ry="9.3"/><path d="M-3.6-3.6 3.6 3.6M3.6-3.6-3.6 3.6"/></g>
<g class="x" transform="translate(630.8)"><ellipse rx="8.6" ry="9.3"/><path d="M-3.6-3.6 3.6 3.6M3.6-3.6-3.6 3.6"/></g>
<g class="x" transform="translate(793.3)"><ellipse rx="8.6" ry="9.3"/><path d="M-3.6-3.6 3.6 3.6M3.6-3.6-3.6 3.6"/></g>
<g class="x" transform="translate(825.8)"><ellipse rx="8.6" ry="9.3"/><path d="M-3.6-3.6 3.6 3.6M3.6-3.6-3.6 3.6"/></g>
<g class="x" transform="translate(858.3)"><ellipse rx="8.6" ry="9.3"/><path d="M-3.6-3.6 3.6 3.6M3.6-3.6-3.6 3.6"/></g>
<g class="x" transform="translate(890.8)"><ellipse rx="8.6" ry="9.3"/><path d="M-3.6-3.6 3.6 3.6M3.6-3.6-3.6 3.6"/></g>
<g class="x" transform="translate(1215.8)"><ellipse rx="8.6" ry="9.3"/><path d="M-3.6-3.6 3.6 3.6M3.6-3.6-3.6 3.6"/></g>
</g>
<g transform="translate(0,1004.8)">
<g class="c" transform="translate(273.3)"><ellipse rx="8.6" ry="9.3"/><path d="M-3.8.4-1.2 4.2 3.6-4.8"/></g>
<g class="c" transform="translate(793.3)"><ellipse rx="8.6" ry="9.3"/><path d="M-3.8.4-1.2 4.2 3.6-4.8"/></g>
<g class="c" transform="translate(890.8)"><ellipse rx="8.6" ry="9.3"/><path d="M-3.8.4-1.2 4.2 3.6-4.8"/></g>
<g class="c" transform="translate(1053.3)"><ellipse rx="8.6" ry="9.3"/><path d="M-3.8.4-1.2 4.2 3.6-4.8"/></g>
<g class="c" transform="translate(1150.8)"><ellipse rx="8.6" ry="9.3"/><path d="M-3.8.4-1.2 4.2 3.6-4.8"/></g>
<g class="x" transform="translate(858.3)"><ellipse rx="8.6" ry="9.3"/><path d="M-3.6-3.6 3.6 3.6M3.6-3.6-3.6 3.6"/></g>
</g>
<g transform="translate(0,1032)">
<g class="c" transform="translate(240.8)"><ellipse rx="8.6" ry="9.3"/><path d="M-3.8.4-1.2 4.2 3.6-4.8"/></g>
<g class="c" transform="translate(273.3)"><ellipse rx="8.6" ry="9.3"/><path d="M-3.8.4-1.2 4.2 3.6-4.8"/></g>
<g class="c" transform="translate(305.8)"><ellipse rx="8.6" ry="9.3"/><path d="M-3.8.4-1.2 4.2 3.6-4.8"/></g>
<g class="c" transform="translate(370.8)"><ellipse rx="8.6" ry="9.3"/><path d="M-3.8.4-1.2 4.2 3.6-4.8"/></g>
<g class="c" transform="translate(403.3)"><ellipse rx="8.6" ry="9.3"/><path d="M-3.8.4-1.2 4.2 3.6-4.8"/></g>
<g class="c" transform="translate(435.8)"><ellipse rx="8.6" ry="9.3"/><path d="M-3.8.4-1.2 4.2 3.6-4.8"/></g>
<g class="c" transform="translate(468.3)"><ellipse rx="8.6" ry="9.3"/><path d="M-3.8.4-1.2 4.2 3.6-4.8"/></g>
<g class="c" transform="translate(533.3)"><ellipse rx="8.6" ry="9.3"/><path d="M-3.8.4-1.2 4.2 3.6-4.8"/></g>
<g class="c" transform="translate(565.8)"><ellipse rx="8.6" ry="9.3"/><path d="M-3.8.4-1.2 4.2 3.6-4.8"/></g>
<g class="c" transform="translate(695.8)"><ellipse rx="8.6" ry="9.3"/><path d="M-3.8.4-1.2 4.2 3.6-4.8"/></g>
<g class="c" transform="translate(728.3)"><ellipse rx="8.6" ry="9.3"/><path d="M-3.8.4-1.2 4.2 3.6-4.8"/></g>
<g class="c" transform="translate(793.3)"><ellipse rx="8.6" ry="9.3"/><path d="M-3.8.4-1.2 4.2 3.6-4.8"/></g>
<g class="c" transform="translate(825.8)"><ellipse rx="8.6" ry="9.3"/><path d="M-3.8.4-1.2 4.2 3.6-4.8"/></g>
<g class="c" transform="translate(890.8)"><ellipse rx="8.6" ry="9.3"/><path d="M-3.8.4-1.2 4.2 3.6-4.8"/></g>
<g class="c" transform="translate(955.8)"><ellipse rx="8.6" ry="9.3"/><path d="M-3.8.4-1.2 4.2 3.6-4.8"/></g>
<g class="c" transform="translate(1020.8)"><ellipse rx="8.6" ry="9.3"/><path d="M-3.8.4-1.2 4.2 3.6-4.8"/></g>
<g class="c" transform="translate(1053.3)"><ellipse rx="8.6" ry="9.3"/><path d="M-3.8.4-1.2 4.2 3.6-4.8"/></g>
<g class="c" transform="translate(1085.8)"><ellipse rx="8.6" ry="9.3"/><path d="M-3.8.4-1.2 4.2 3.6-4.8"/></g>
<g class="c" transform="translate(1118.3)"><ellipse rx="8.6" ry="9.3"/><path d="M-3.8.4-1.2 4.2 3.6-4.8"/></g>
<g class="c" transform="translate(1215.8)"><ellipse rx="8.6" ry="9.3"/><path d="M-3.8.4-1.2 4.2 3.6-4.8"/></g>
<g class="c" transform="translate(1248.3)"><ellipse rx="8.6" ry="9.3"/><path d="M-3.8.4-1.2 4.2 3.6-4.8"/></g>
<g class="c" transform="translate(1313.3)"><ellipse rx="8.6" ry="9.3"/><path d="M-3.8.4-1.2 4.2 3.6-4.8"/></g>
<g class="x" transform="translate(988.3)"><ellipse rx="8.6" ry="9.3"/><path d="M-3.6-3.6 3.6 3.6M3.6-3.6-3.6 3.6"/></g>
<g class="x" transform="translate(1183.3)"><ellipse rx="8.6" ry="9.3"/><path d="M-3.6-3.6 3.6 3.6M3.6-3.6-3.6 3.6"/></g>
</g>
<g transform="translate(0,1059.3)">
<g class="c" transform="translate(240.8)"><ellipse rx="8.6" ry="9.3"/><path d="M-3.8.4-1.2 4.2 3.6-4.8"/></g>
<g class="c" transform="translate(273.3)"><ellipse rx="8.6" ry="9.3"/><path d="M-3.8.4-1.2 4.2 3.6-4.8"/></g>
<g class="c" transform="translate(338.3)"><ellipse rx="8.6" ry="9.3"/><path d="M-3.8.4-1.2 4.2 3.6-4.8"/></g>
<g class="c" transform="translate(565.8)"><ellipse rx="8.6" ry="9.3"/><path d="M-3.8.4-1.2 4.2 3.6-4.8"/></g>
<g class="c" transform="translate(695.8)"><ellipse rx="8.6" ry="9.3"/><path d="M-3.8.4-1.2 4.2 3.6-4.8"/></g>
<g class="c" transform="translate(728.3)"><ellipse rx="8.6" ry="9.3"/><path d="M-3.8.4-1.2 4.2 3.6-4.8"/></g>
<g class="c" transform="translate(793.3)"><ellipse rx="8.6" ry="9.3"/><path d="M-3.8.4-1.2 4.2 3.6-4.8"/></g>
<g class="c" transform="translate(1215.8)"><ellipse rx="8.6" ry="9.3"/><path d="M-3.8.4-1.2 4.2 3.6-4.8"/></g>
<g class="x" transform="translate(630.8)"><ellipse rx="8.6" ry="9.3"/><path d="M-3.6-3.6 3.6 3.6M3.6-3.6-3.6 3.6"/></g>
<g class="x" transform="translate(825.8)"><ellipse rx="8.6" ry="9.3"/><path d="M-3.6-3.6 3.6 3.6M3.6-3.6-3.6 3.6"/></g>
<g class="x" transform="translate(1150.8)"><ellipse rx="8.6" ry="9.3"/><path d="M-3.6-3.6 3.6 3.6M3.6-3.6-3.6 3.6"/></g>
</g>
<g transform="translate(0,1086.5)">
<g class="c" transform="translate(240.8)"><ellipse rx="8.6" ry="9.3"/><path d="M-3.8.4-1.2 4.2 3.6-4.8"/></g>
<g class="c" transform="translate(273.3)"><ellipse rx="8.6" ry="9.3"/><path d="M-3.8.4-1.2 4.2 3.6-4.8"/></g>
<g class="c" transform="translate(435.8)"><ellipse rx="8.6" ry="9.3"/><path d="M-3.8.4-1.2 4.2 3.6-4.8"/></g>
<g class="c" transform="translate(468.3)"><ellipse rx="8.6" ry="9.3"/><path d="M-3.8.4-1.2 4.2 3.6-4.8"/></g>
<g class="c" transform="translate(565.8)"><ellipse rx="8.6" ry="9.3"/><path d="M-3.8.4-1.2 4.2 3.6-4.8"/></g>
<g class="c" transform="translate(630.8)"><ellipse rx="8.6" ry="9.3"/><path d="M-3.8.4-1.2 4.2 3.6-4.8"/></g>
<g class="c" transform="translate(695.8)"><ellipse rx="8.6" ry="9.3"/><path d="M-3.8.4-1.2 4.2 3.6-4.8"/></g>
<g class="c" transform="translate(728.3)"><ellipse rx="8.6" ry="9.3"/><path d="M-3.8.4-1.2 4.2 3.6-4.8"/></g>
<g class="c" transform="translate(825.8)"><ellipse rx="8.6" ry="9.3"/><path d="M-3.8.4-1.2 4.2 3.6-4.8"/></g>
<g class="c" transform="translate(1053.3)"><ellipse rx="8.6" ry="9.3"/><path d="M-3.8.4-1.2 4.2 3.6-4.8"/></g>
<g class="c" transform="translate(1150.8)"><ellipse rx="8.6" ry="9.3"/><path d="M-3.8.4-1.2 4.2 3.6-4.8"/></g>
<g class="c" transform="translate(1183.3)"><ellipse rx="8.6" ry="9.3"/><path d="M-3.8.4-1.2 4.2 3.6-4.8"/></g>
<g class="x" transform="translate(858.3)"><ellipse rx="8.6" ry="9.3"/><path d="M-3.6-3.6 3.6 3.6M3.6-3.6-3.6 3.6"/></g>
<g class="x" transform="translate(1085.8)"><ellipse rx="8.6" ry="9.3"/><path d="M-3.6-3.6 3.6 3.6M3.6-3.6-3.6 3.6"/></g>
</g>
<g transform="translate(0,1113.7)">
<g class="c" transform="translate(663.3)"><ellipse rx="8.6" ry="9.3"/><path d="M-3.8.4-1.2 4.2 3.6-4.8"/></g>
<g class="c" transform="translate(695.8)"><ellipse rx="8.6" ry="9.3"/><path d="M-3.8.4-1.2 4.2 3.6-4.8"/></g>
<g class="c" transform="translate(728.3)"><ellipse rx="8.6" ry="9.3"/><path d="M-3.8.4-1.2 4.2 3.6-4.8"/></g>
<g class="c" transform="translate(825.8)"><ellipse rx="8.6" ry="9.3"/><path d="M-3.8.4-1.2 4.2 3.6-4.8"/></g>
<g class="c" transform="translate(890.8)"><ellipse rx="8.6" ry="9.3"/><path d="M-3.8.4-1.2 4.2 3.6-4.8"/></g>
<g class="c" transform="translate(923.3)"><ellipse rx="8.6" ry="9.3"/><path d="M-3.8.4-1.2 4.2 3.6-4.8"/></g>
<g class="c" transform="translate(1020.8)"><ellipse rx="8.6" ry="9.3"/><path d="M-3.8.4-1.2 4.2 3.6-4.8"/></g>
<g class="c" transform="translate(1150.8)"><ellipse rx="8.6" ry="9.3"/><path d="M-3.8.4-1.2 4.2 3.6-4.8"/></g>
<g class="c" transform="translate(1313.3)"><ellipse rx="8.6" ry="9.3"/><path d="M-3.8.4-1.2 4.2 3.6-4.8"/></g>
<g class="x" transform="translate(240.8)"><ellipse rx="8.6" ry="9.3"/><path d="M-3.6-3.6 3.6 3.6M3.6-3.6-3.6 3.6"/></g>
<g class="x" transform="translate(435.8)"><ellipse rx="8.6" ry="9.3"/><path d="M-3.6-3.6 3.6 3.6M3.6-3.6-3.6 3.6"/></g>
<g class="x" transform="translate(533.3)"><ellipse rx="8.6" ry="9.3"/><path d="M-3.6-3.6 3.6 3.6M3.6-3.6-3.6 3.6"/></g>
<g class="x" transform="translate(565.8)"><ellipse rx="8.6" ry="9.3"/><path d="M-3.6-3.6 3.6 3.6M3.6-3.6-3.6 3.6"/></g>
<g class="x" transform="translate(630.8)"><ellipse rx="8.6" ry="9.3"/><path d="M-3.6-3.6 3.6 3.6M3.6-3.6-3.6 3.6"/></g>
</g>
<g transform="translate(0,1141)">
<g class="c" transform="translate(273.3)"><ellipse rx="8.6" ry="9.3"/><path d="M-3.8.4-1.2 4.2 3.6-4.8"/></g>
<g class="c" transform="translate(435.8)"><ellipse rx="8.6" ry="9.3"/><path d="M-3.8.4-1.2 4.2 3.6-4.8"/></g>
<g class="c" transform="translate(825.8)"><ellipse rx="8.6" ry="9.3"/><path d="M-3.8.4-1.2 4.2 3.6-4.8"/></g>
<g class="c" transform="translate(1053.3)"><ellipse rx="8.6" ry="9.3"/><path d="M-3.8.4-1.2 4.2 3.6-4.8"/></g>
<g class="c" transform="translate(1313.3)"><ellipse rx="8.6" ry="9.3"/><path d="M-3.8.4-1.2 4.2 3.6-4.8"/></g>
<g class="x" transform="translate(565.8)"><ellipse rx="8.6" ry="9.3"/><path d="M-3.6-3.6 3.6 3.6M3.6-3.6-3.6 3.6"/></g>
</g>
<g transform="translate(0,1168.2)">
<g class="c" transform="translate(403.3)"><ellipse rx="8.6" ry="9.3"/><path d="M-3.8.4-1.2 4.2 3.6-4.8"/></g>
<g class="c" transform="translate(468.3)"><ellipse rx="8.6" ry="9.3"/><path d="M-3.8.4-1.2 4.2 3.6-4.8"/></g>
<g class="c" transform="translate(500.8)"><ellipse rx="8.6" ry="9.3"/><path d="M-3.8.4-1.2 4.2 3.6-4.8"/></g>
<g class="c" transform="translate(565.8)"><ellipse rx="8.6" ry="9.3"/><path d="M-3.8.4-1.2 4.2 3.6-4.8"/></g>
<g class="c" transform="translate(663.3)"><ellipse rx="8.6" ry="9.3"/><path d="M-3.8.4-1.2 4.2 3.6-4.8"/></g>
<g class="c" transform="translate(890.8)"><ellipse rx="8.6" ry="9.3"/><path d="M-3.8.4-1.2 4.2 3.6-4.8"/></g>
<g class="c" transform="translate(955.8)"><ellipse rx="8.6" ry="9.3"/><path d="M-3.8.4-1.2 4.2 3.6-4.8"/></g>
<g class="c" transform="translate(1053.3)"><ellipse rx="8.6" ry="9.3"/><path d="M-3.8.4-1.2 4.2 3.6-4.8"/></g>
<g class="c" transform="translate(1150.8)"><ellipse rx="8.6" ry="9.3"/><path d="M-3.8.4-1.2 4.2 3.6-4.8"/></g>
<g class="c" transform="translate(1248.3)"><ellipse rx="8.6" ry="9.3"/><path d="M-3.8.4-1.2 4.2 3.6-4.8"/></g>
<g class="c" transform="translate(1280.8)"><ellipse rx="8.6" ry="9.3"/><path d="M-3.8.4-1.2 4.2 3.6-4.8"/></g>
<g class="x" transform="translate(273.3)"><ellipse rx="8.6" ry="9.3"/><path d="M-3.6-3.6 3.6 3.6M3.6-3.6-3.6 3.6"/></g>
<g class="x" transform="translate(338.3)"><ellipse rx="8.6" ry="9.3"/><path d="M-3.6-3.6 3.6 3.6M3.6-3.6-3.6 3.6"/></g>
<g class="x" transform="translate(435.8)"><ellipse rx="8.6" ry="9.3"/><path d="M-3.6-3.6 3.6 3.6M3.6-3.6-3.6 3.6"/></g>
<g class="x" transform="translate(630.8)"><ellipse rx="8.6" ry="9.3"/><path d="M-3.6-3.6 3.6 3.6M3.6-3.6-3.6 3.6"/></g>
<g class="x" transform="translate(695.8)"><ellipse rx="8.6" ry="9.3"/><path d="M-3.6-3.6 3.6 3.6M3.6-3.6-3.6 3.6"/></g>
<g class="x" transform="translate(793.3)"><ellipse rx="8.6" ry="9.3"/><path d="M-3.6-3.6 3.6 3.6M3.6-3.6-3.6 3.6"/></g>
</g>

<!-- Row labels left -->
<g class="lab" text-anchor="end">
<text x="223" y="274.4">Auberginen</text>
<text x="223" y="301.6">Bohnen</text>
<text x="223" y="328.9">Bohnenkraut</text>
<text x="223" y="356.1">Blumenkohl / Brokkoli</text>
<text x="223" y="383.3">Chicoreé</text>
<text x="223" y="410.6">Dill</text>
<text x="223" y="437.8">Erbsen / Zucherschoten</text>
<text x="223" y="465">Erdbeeren</text>
<text x="223" y="492.2">Feldsalat</text>
<text x="223" y="519.5">Fenchel</text>
<text x="223" y="546.7">Gurken</text>
<text x="223" y="573.9">Kapuzinerkresse</text>
<text x="223" y="601.2">Kartoffeln</text>
<text x="223" y="628.4">Knoblauch</text>
<text x="223" y="655.6">Kohl</text>
<text x="223" y="682.9">Kohlrabi</text>
<text x="223" y="710.1">Kürbis</text>
<text x="223" y="737.3">Lauch / Porree</text>
<text x="223" y="764.5">Mais</text>
<text x="223" y="791.8">Mangold</text>
<text x="223" y="819">Möhren</text>
<text x="223" y="846.2">Paprika</text>
<text x="223" y="873.5">Pastinaken</text>
<text x="223" y="900.7">Petersilie</text>
<text x="223" y="927.9">Pfefferminze</text>
<text x="223" y="955.2">Radies / Rettich</text>
<text x="223" y="982.4">Rote Bete</text>
<text x="223" y="1009.6">Schwarzwurzeln</text>
<text x="223" y="1036.8">Salate (Kopf-/Pflück)</text>
<text x="223" y="1064.1">Sellerie</text>
<text x="223" y="1091.3">Spinat</text>
<text x="223" y="1118.5">Tomate</text>
<text x="223" y="1145.8">Zucchini</text>
<text x="223" y="1173">Zwiebel</text>
</g>
<!-- Row labels right -->
<g class="lab">
<text x="1335" y="274.4">Auberginen</text>
<text x="1335" y="301.6">Bohnen</text>
<text x="1335" y="328.9">Bohnenkraut</text>
<text x="1335" y="356.1">Blumenkohl / Brokkoli</text>
<text x="1335" y="383.3">Chicoreé</text>
<text x="1335" y="410.6">Dill</text>
<text x="1335" y="437.8">Erbsen / Zucherschoten</text>
<text x="1335" y="465">Erdbeeren</text>
<text x="1335" y="492.2">Feldsalat</text>
<text x="1335" y="519.5">Fenchel</text>
<text x="1335" y="546.7">Gurken</text>
<text x="1335" y="573.9">Kapuzinerkresse</text>
<text x="1335" y="601.2">Kartoffeln</text>
<text x="1335" y="628.4">Knoblauch</text>
<text x="1335" y="655.6">Kohl</text>
<text x="1335" y="682.9">Kohlrabi</text>
<text x="1335" y="710.1">Kürbis</text>
<text x="1335" y="737.3">Lauch / Porree</text>
<text x="1335" y="764.5">Mais</text>
<text x="1335" y="791.8">Mangold</text>
<text x="1335" y="819">Möhren</text>
<text x="1335" y="846.2">Paprika</text>
<text x="1335" y="873.5">Pastinaken</text>
<text x="1335" y="900.7">Petersilie</text>
<text x="1335" y="927.9">Pfefferminze</text>
<text x="1335" y="955.2">Radies / Rettich</text>
<text x="1335" y="982.4">Rote Bete</text>
<text x="1335" y="1009.6">Schwarzwurzeln</text>
<text x="1335" y="1036.8">Salate (Kopf-/Pflück)</text>
<text x="1335" y="1064.1">Sellerie</text>
<text x="1335" y="1091.3">Spinat</text>
<text x="1335" y="1118.5">Tomate</text>
<text x="1335" y="1145.8">Zucchini</text>
<text x="1335" y="1173">Zwiebel</text>
</g>
<!-- Column labels -->
<g class="lab">
<text transform="translate(245.3,249) rotate(-90)">Auberginen</text>
<text transform="translate(277.8,249) rotate(-90)">Bohnen</text>
<text transform="translate(310.3,249) rotate(-90)">Bohnenkraut</text>
<text transform="translate(342.8,249) rotate(-90)">Blumenkohl / Brokkoli</text>
<text transform="translate(375.3,249) rotate(-90)">Chicoreé</text>
<text transform="translate(407.8,249) rotate(-90)">Dill</text>
<text transform="translate(440.3,249) rotate(-90)">Erbsen / Zucherschoten</text>
<text transform="translate(472.8,249) rotate(-90)">Erdbeeren</text>
<text transform="translate(505.3,249) rotate(-90)">Feldsalat</text>
<text transform="translate(537.8,249) rotate(-90)">Fenchel</text>
<text transform="translate(570.3,249) rotate(-90)">Gurken</text>
<text transform="translate(602.8,249) rotate(-90)">Kapuzinerkresse</text>
<text transform="translate(635.3,249) rotate(-90)">Kartoffeln</text>
<text transform="translate(667.8,249) rotate(-90)">Knoblauch</text>
<text transform="translate(700.3,249) rotate(-90)">Kohl</text>
<text transform="translate(732.8,249) rotate(-90)">Kohlrabi</text>
<text transform="translate(765.3,249) rotate(-90)">Kürbis</text>
<text transform="translate(797.8,249) rotate(-90)">Lauch / Porree</text>
<text transform="translate(830.3,249) rotate(-90)">Mais</text>
<text transform="translate(862.8,249) rotate(-90)">Mangold</text>
<text transform="translate(895.3,249) rotate(-90)">Möhren</text>
<text transform="translate(927.8,249) rotate(-90)">Paprika</text>
<text transform="translate(960.3,249) rotate(-90)">Pastinaken</text>
<text transform="translate(992.8,249) rotate(-90)">Petersilie</text>
<text transform="translate(1025.3,249) rotate(-90)">Pfefferminze</text>
<text transform="translate(1057.8,249) rotate(-90)">Radies / Rettich</text>
<text transform="translate(1090.3,249) rotate(-90)">Rote Bete</text>
<text transform="translate(1122.8,249) rotate(-90)">Schwarzwurzeln</text>
<text transform="translate(1155.3,249) rotate(-90)">Salate (Kopf-/Pflück)</text>
<text transform="translate(1187.8,249) rotate(-90)">Sellerie</text>
<text transform="translate(1220.3,249) rotate(-90)">Spinat</text>
<text transform="translate(1252.8,249) rotate(-90)">Tomate</text>
<text transform="translate(1285.3,249) rotate(-90)">Zucchini</text>
<text transform="translate(1317.8,249) rotate(-90)">Zwiebel</text>
</g>

<!-- Logo -->
<g>
<ellipse cx="1595.5" cy="71" rx="9.5" ry="6" transform="rotate(-15 1595.5 71)" fill="#f4d000"/>
<ellipse cx="1605" cy="62" rx="7.5" ry="9" transform="rotate(-25 1605 62)" fill="#f29100"/>
<ellipse cx="1620" cy="58" rx="7" ry="9.5" fill="#c8102e"/>
<ellipse cx="1634.5" cy="63" rx="8" ry="9" transform="rotate(25 1634.5 63)" fill="#7e2c8e"/>
<ellipse cx="1645" cy="71" rx="9.5" ry="6" transform="rotate(15 1645 71)" fill="#1f4e9a"/>
<path fill="#1d6b36" d="M1545,78 L1598,78 Q1620,64 1642,78 L1697,78 Q1702,78 1701,83 L1696,111 Q1695,116 1690,116 L1563,116 Q1558,116 1557,111 L1540,83 Q1539,78 1545,78Z"/>
<text x="1560" y="107.5" textLength="128" lengthAdjust="spacingAndGlyphs" style="font-family:'Liberation Sans',sans-serif;font-weight:bold;font-style:italic;font-size:28px;fill:#fff;">Dehner</text>
</g>

<!-- Title -->
<g class="ttl">
<text x="1343" y="156.5" textLength="359" lengthAdjust="spacingAndGlyphs">PERFEKT GEMISCHT:</text>
<text x="1343" y="193" textLength="350" lengthAdjust="spacingAndGlyphs">WELCHE KULTUREN</text>
<text x="1343" y="229" textLength="332" lengthAdjust="spacingAndGlyphs">PASSEN ZUSAMMEN</text>
</g>

<!-- Legend -->
<g fill="none" stroke="#333" stroke-width="1">
<circle cx="1509.5" cy="940.5" r="7.3"/>
<path d="M-2.8.3-.9 3 2.6-3.6" transform="translate(1509.5,940.5)" stroke-width="1.3"/>
<circle cx="1509.5" cy="965.5" r="7.3"/>
<path d="M-3-3 3 3M3-3-3 3" transform="translate(1509.5,965.5)"/>
<rect x="1503" y="1002.5" width="14" height="14"/>
</g>
<g class="lg">
<text x="1525" y="945" textLength="107" lengthAdjust="spacingAndGlyphs">GUTE PARTNER</text>
<text x="1525" y="970.5" textLength="92" lengthAdjust="spacingAndGlyphs">UNPASSENDE</text>
<text x="1525" y="986.5" textLength="65" lengthAdjust="spacingAndGlyphs">PARTNER</text>
<text x="1525" y="1012.5" textLength="143" lengthAdjust="spacingAndGlyphs">NEUTRALE PARTNER</text>
</g>
</svg>
</body></html>
